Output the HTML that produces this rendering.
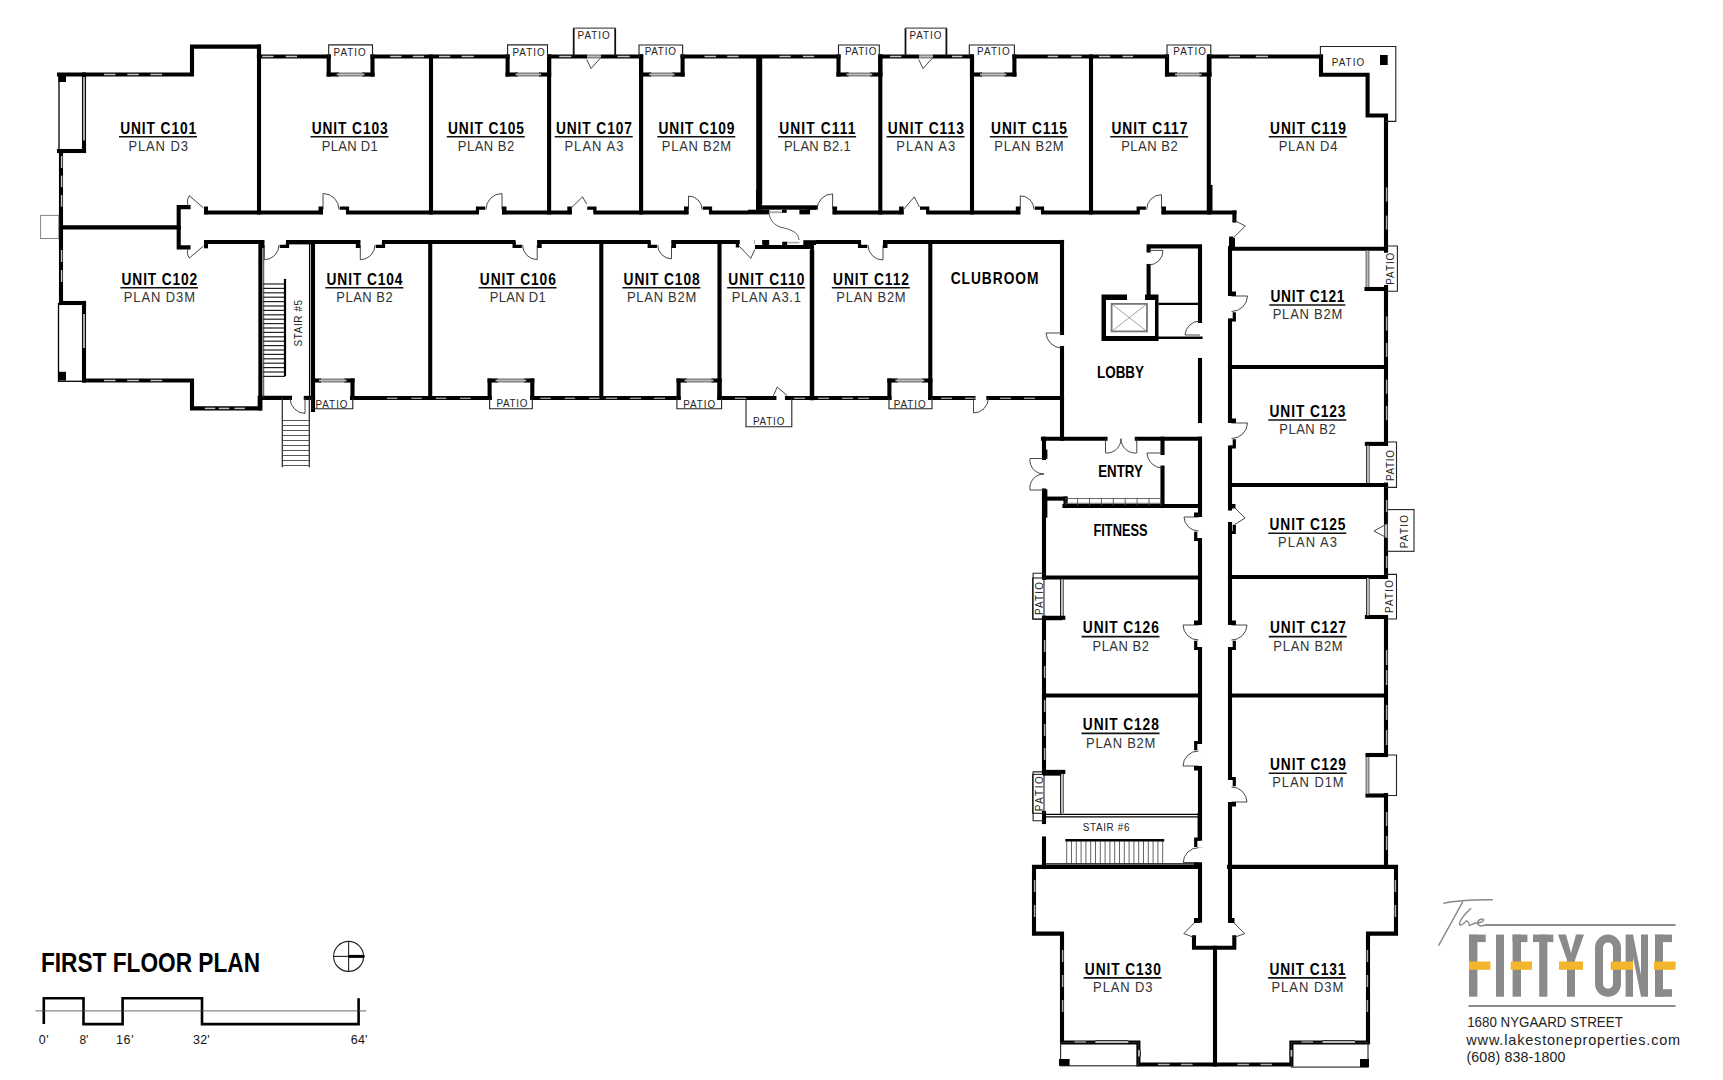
<!DOCTYPE html>
<html><head><meta charset="utf-8"><style>
html,body{margin:0;padding:0;background:#fff;}
svg{display:block;}
text{font-family:"Liberation Sans",sans-serif;}
</style></head><body>
<svg width="1723" height="1080" viewBox="0 0 1723 1080">
<rect width="1723" height="1080" fill="#fff"/>
<polyline points="59,74.5 192,74.5 192,46.6 259,46.6 259,56.5" fill="none" stroke="#000" stroke-width="4.1" stroke-linejoin="miter" stroke-linecap="square"/>
<line x1="259" y1="56.5" x2="328.7" y2="56.5" stroke="#000" stroke-width="4.1" stroke-linecap="square"/>
<line x1="372.5" y1="56.5" x2="507.6" y2="56.5" stroke="#000" stroke-width="4.1" stroke-linecap="square"/>
<line x1="549.1" y1="56.5" x2="641.1" y2="56.5" stroke="#000" stroke-width="4.1" stroke-linecap="square"/>
<line x1="682.6" y1="56.5" x2="838.5" y2="56.5" stroke="#000" stroke-width="4.1" stroke-linecap="square"/>
<line x1="880.3" y1="56.5" x2="969.3" y2="56.5" stroke="#000" stroke-width="4.1" stroke-linecap="square"/>
<line x1="1014.4" y1="56.5" x2="1167" y2="56.5" stroke="#000" stroke-width="4.1" stroke-linecap="square"/>
<line x1="1209.5" y1="56.5" x2="1321" y2="56.5" stroke="#000" stroke-width="4.1" stroke-linecap="square"/>
<line x1="328.7" y1="56.5" x2="328.7" y2="74.5" stroke="#000" stroke-width="4.1" stroke-linecap="square"/>
<line x1="372.5" y1="56.5" x2="372.5" y2="74.5" stroke="#000" stroke-width="4.1" stroke-linecap="square"/>
<line x1="328.7" y1="74.5" x2="336.7" y2="74.5" stroke="#000" stroke-width="4.1" stroke-linecap="square"/>
<line x1="364.5" y1="74.5" x2="372.5" y2="74.5" stroke="#000" stroke-width="4.1" stroke-linecap="square"/>
<line x1="336.7" y1="73.2" x2="364.5" y2="73.2" stroke="#111" stroke-width="0.9" stroke-linecap="butt"/>
<line x1="336.7" y1="75.8" x2="364.5" y2="75.8" stroke="#111" stroke-width="0.9" stroke-linecap="butt"/>
<line x1="336.7" y1="74.5" x2="364.5" y2="74.5" stroke="#bbb" stroke-width="1.8" stroke-linecap="butt"/>
<line x1="507.6" y1="56.5" x2="507.6" y2="74.5" stroke="#000" stroke-width="4.1" stroke-linecap="square"/>
<line x1="549.1" y1="56.5" x2="549.1" y2="74.5" stroke="#000" stroke-width="4.1" stroke-linecap="square"/>
<line x1="507.6" y1="74.5" x2="515.6" y2="74.5" stroke="#000" stroke-width="4.1" stroke-linecap="square"/>
<line x1="541.1" y1="74.5" x2="549.1" y2="74.5" stroke="#000" stroke-width="4.1" stroke-linecap="square"/>
<line x1="515.6" y1="73.2" x2="541.1" y2="73.2" stroke="#111" stroke-width="0.9" stroke-linecap="butt"/>
<line x1="515.6" y1="75.8" x2="541.1" y2="75.8" stroke="#111" stroke-width="0.9" stroke-linecap="butt"/>
<line x1="515.6" y1="74.5" x2="541.1" y2="74.5" stroke="#bbb" stroke-width="1.8" stroke-linecap="butt"/>
<line x1="641.1" y1="56.5" x2="641.1" y2="74.5" stroke="#000" stroke-width="4.1" stroke-linecap="square"/>
<line x1="682.6" y1="56.5" x2="682.6" y2="74.5" stroke="#000" stroke-width="4.1" stroke-linecap="square"/>
<line x1="641.1" y1="74.5" x2="649.1" y2="74.5" stroke="#000" stroke-width="4.1" stroke-linecap="square"/>
<line x1="674.6" y1="74.5" x2="682.6" y2="74.5" stroke="#000" stroke-width="4.1" stroke-linecap="square"/>
<line x1="649.1" y1="73.2" x2="674.6" y2="73.2" stroke="#111" stroke-width="0.9" stroke-linecap="butt"/>
<line x1="649.1" y1="75.8" x2="674.6" y2="75.8" stroke="#111" stroke-width="0.9" stroke-linecap="butt"/>
<line x1="649.1" y1="74.5" x2="674.6" y2="74.5" stroke="#bbb" stroke-width="1.8" stroke-linecap="butt"/>
<line x1="838.5" y1="56.5" x2="838.5" y2="74.5" stroke="#000" stroke-width="4.1" stroke-linecap="square"/>
<line x1="880.3" y1="56.5" x2="880.3" y2="74.5" stroke="#000" stroke-width="4.1" stroke-linecap="square"/>
<line x1="838.5" y1="74.5" x2="846.5" y2="74.5" stroke="#000" stroke-width="4.1" stroke-linecap="square"/>
<line x1="872.3" y1="74.5" x2="880.3" y2="74.5" stroke="#000" stroke-width="4.1" stroke-linecap="square"/>
<line x1="846.5" y1="73.2" x2="872.3" y2="73.2" stroke="#111" stroke-width="0.9" stroke-linecap="butt"/>
<line x1="846.5" y1="75.8" x2="872.3" y2="75.8" stroke="#111" stroke-width="0.9" stroke-linecap="butt"/>
<line x1="846.5" y1="74.5" x2="872.3" y2="74.5" stroke="#bbb" stroke-width="1.8" stroke-linecap="butt"/>
<line x1="972" y1="56.5" x2="972" y2="74.5" stroke="#000" stroke-width="4.1" stroke-linecap="square"/>
<line x1="1014.4" y1="56.5" x2="1014.4" y2="74.5" stroke="#000" stroke-width="4.1" stroke-linecap="square"/>
<line x1="972" y1="74.5" x2="980" y2="74.5" stroke="#000" stroke-width="4.1" stroke-linecap="square"/>
<line x1="1006.4" y1="74.5" x2="1014.4" y2="74.5" stroke="#000" stroke-width="4.1" stroke-linecap="square"/>
<line x1="980" y1="73.2" x2="1006.4" y2="73.2" stroke="#111" stroke-width="0.9" stroke-linecap="butt"/>
<line x1="980" y1="75.8" x2="1006.4" y2="75.8" stroke="#111" stroke-width="0.9" stroke-linecap="butt"/>
<line x1="980" y1="74.5" x2="1006.4" y2="74.5" stroke="#bbb" stroke-width="1.8" stroke-linecap="butt"/>
<line x1="1167" y1="56.5" x2="1167" y2="74.5" stroke="#000" stroke-width="4.1" stroke-linecap="square"/>
<line x1="1209.5" y1="56.5" x2="1209.5" y2="74.5" stroke="#000" stroke-width="4.1" stroke-linecap="square"/>
<line x1="1167" y1="74.5" x2="1175" y2="74.5" stroke="#000" stroke-width="4.1" stroke-linecap="square"/>
<line x1="1201.5" y1="74.5" x2="1209.5" y2="74.5" stroke="#000" stroke-width="4.1" stroke-linecap="square"/>
<line x1="1175" y1="73.2" x2="1201.5" y2="73.2" stroke="#111" stroke-width="0.9" stroke-linecap="butt"/>
<line x1="1175" y1="75.8" x2="1201.5" y2="75.8" stroke="#111" stroke-width="0.9" stroke-linecap="butt"/>
<line x1="1175" y1="74.5" x2="1201.5" y2="74.5" stroke="#bbb" stroke-width="1.8" stroke-linecap="butt"/>
<polyline points="1321,56.5 1321,74.7 1367.6,74.7 1367.6,115.5 1386,115.5 1386,250.7" fill="none" stroke="#000" stroke-width="4.1" stroke-linejoin="miter" stroke-linecap="square"/>
<line x1="1386" y1="287" x2="1386" y2="443.9" stroke="#000" stroke-width="4.1" stroke-linecap="square"/>
<line x1="1386" y1="484.6" x2="1386" y2="576.3" stroke="#000" stroke-width="4.1" stroke-linecap="square"/>
<line x1="1386" y1="617" x2="1386" y2="755" stroke="#000" stroke-width="4.1" stroke-linecap="square"/>
<line x1="1386" y1="795" x2="1386" y2="867" stroke="#000" stroke-width="4.1" stroke-linecap="square"/>
<line x1="431" y1="56.5" x2="431" y2="212.5" stroke="#000" stroke-width="4.1" stroke-linecap="square"/>
<line x1="549.1" y1="56.5" x2="549.1" y2="212.5" stroke="#000" stroke-width="4.1" stroke-linecap="square"/>
<line x1="641.1" y1="56.5" x2="641.1" y2="212.5" stroke="#000" stroke-width="4.1" stroke-linecap="square"/>
<line x1="880.3" y1="56.5" x2="880.3" y2="212.5" stroke="#000" stroke-width="4.1" stroke-linecap="square"/>
<line x1="972" y1="56.5" x2="972" y2="212.5" stroke="#000" stroke-width="4.1" stroke-linecap="square"/>
<line x1="1091" y1="56.5" x2="1091" y2="212.5" stroke="#000" stroke-width="4.1" stroke-linecap="square"/>
<line x1="259" y1="46.6" x2="259" y2="212.5" stroke="#000" stroke-width="4.1" stroke-linecap="square"/>
<line x1="759.2" y1="56.5" x2="759.2" y2="212.5" stroke="#000" stroke-width="6" stroke-linecap="butt"/>
<line x1="1208.8" y1="56.5" x2="1208.8" y2="212.5" stroke="#000" stroke-width="4.1" stroke-linecap="square"/>
<rect x="1207" y="185" width="5.5" height="27.5" fill="#000"/>
<polyline points="328.7,56.5 328.7,44.9 372.5,44.9 372.5,56.5" fill="none" stroke="#222" stroke-width="1.1" stroke-linejoin="miter" stroke-linecap="square"/>
<polyline points="507.6,56.5 507.6,44.9 547.5,44.9 547.5,56.5" fill="none" stroke="#222" stroke-width="1.1" stroke-linejoin="miter" stroke-linecap="square"/>
<line x1="573.7" y1="56.5" x2="573.7" y2="28.2" stroke="#111" stroke-width="1.8" stroke-linecap="butt"/>
<line x1="615.2" y1="56.5" x2="615.2" y2="28.2" stroke="#111" stroke-width="1.8" stroke-linecap="butt"/>
<line x1="573.7" y1="28.2" x2="615.2" y2="28.2" stroke="#555" stroke-width="1.3" stroke-linecap="square"/>
<polyline points="639,56.5 639,45 682.6,45 682.6,56.5" fill="none" stroke="#222" stroke-width="1.1" stroke-linejoin="miter" stroke-linecap="square"/>
<polyline points="838.5,56.5 838.5,45 879.3,45 879.3,56.5" fill="none" stroke="#222" stroke-width="1.1" stroke-linejoin="miter" stroke-linecap="square"/>
<line x1="905.5" y1="56.5" x2="905.5" y2="28.2" stroke="#111" stroke-width="1.8" stroke-linecap="butt"/>
<line x1="946.4" y1="56.5" x2="946.4" y2="28.2" stroke="#111" stroke-width="1.8" stroke-linecap="butt"/>
<line x1="905.5" y1="28.2" x2="946.4" y2="28.2" stroke="#555" stroke-width="1.3" stroke-linecap="square"/>
<polyline points="969.3,56.5 969.3,45 1014.4,45 1014.4,56.5" fill="none" stroke="#222" stroke-width="1.1" stroke-linejoin="miter" stroke-linecap="square"/>
<polyline points="1167,56.5 1167,45 1210.8,45 1210.8,56.5" fill="none" stroke="#222" stroke-width="1.1" stroke-linejoin="miter" stroke-linecap="square"/>
<polyline points="1320.4,56.5 1320.4,46.5 1395.8,46.5 1395.8,121.4 1386,121.4" fill="none" stroke="#222" stroke-width="1.1" stroke-linejoin="miter" stroke-linecap="square"/>
<rect x="1380" y="55" width="7.7" height="10" fill="#000"/>
<polyline points="59,74.5 59,151" fill="none" stroke="#000" stroke-width="1.3" stroke-linejoin="miter" stroke-linecap="square"/>
<line x1="84" y1="74.5" x2="84" y2="151" stroke="#000" stroke-width="4.1" stroke-linecap="square"/>
<line x1="59" y1="151" x2="84" y2="151" stroke="#000" stroke-width="4.1" stroke-linecap="square"/>
<rect x="58.5" y="74.5" width="7.5" height="7.5" fill="#000"/>
<line x1="61" y1="151" x2="61" y2="303" stroke="#000" stroke-width="4.1" stroke-linecap="square"/>
<line x1="61" y1="227.4" x2="178.7" y2="227.4" stroke="#000" stroke-width="4.1" stroke-linecap="square"/>
<rect x="40.7" y="215.3" width="18.1" height="23.3" fill="none" stroke="#666" stroke-width="0.8"/>
<polyline points="188.5,207.1 178.7,207.1 178.7,247.4 188.5,247.4" fill="none" stroke="#000" stroke-width="4.1" stroke-linejoin="miter" stroke-linecap="square"/>
<rect x="204" y="206.5" width="4" height="7.8" fill="#000"/>
<rect x="204" y="241.5" width="4" height="6.8" fill="#000"/>
<rect x="58.5" y="303.7" width="25.7" height="77.6" fill="none" stroke="#000" stroke-width="1.3"/>
<line x1="61" y1="303" x2="84" y2="303" stroke="#000" stroke-width="4.1" stroke-linecap="square"/>
<line x1="84" y1="303" x2="84" y2="380.5" stroke="#000" stroke-width="4.1" stroke-linecap="square"/>
<rect x="58.8" y="371.8" width="7.2" height="8.7" fill="#000"/>
<polyline points="84,380.5 192,380.5 192,408.4 259.7,408.4 259.7,397.9" fill="none" stroke="#000" stroke-width="4.1" stroke-linejoin="miter" stroke-linecap="square"/>
<line x1="206" y1="212.5" x2="1234.4" y2="212.5" stroke="#000" stroke-width="4.1" stroke-linecap="square"/>
<line x1="206" y1="242" x2="1062" y2="242" stroke="#000" stroke-width="4.1" stroke-linecap="square"/>
<line x1="260.4" y1="242" x2="260.4" y2="408.4" stroke="#000" stroke-width="4.1" stroke-linecap="square"/>
<line x1="309.6" y1="244" x2="309.6" y2="398" stroke="#000" stroke-width="1.3" stroke-linecap="square"/>
<line x1="313" y1="242" x2="313" y2="410" stroke="#000" stroke-width="4.1" stroke-linecap="square"/>
<line x1="260.5" y1="397.9" x2="290" y2="397.9" stroke="#000" stroke-width="4.1" stroke-linecap="square"/>
<line x1="305.8" y1="397.9" x2="313" y2="397.9" stroke="#000" stroke-width="4.1" stroke-linecap="square"/>
<line x1="430.2" y1="242" x2="430.2" y2="398" stroke="#000" stroke-width="4.1" stroke-linecap="square"/>
<line x1="601.3" y1="242" x2="601.3" y2="398" stroke="#000" stroke-width="4.1" stroke-linecap="square"/>
<line x1="719.5" y1="242" x2="719.5" y2="398" stroke="#000" stroke-width="4.1" stroke-linecap="square"/>
<line x1="930.3" y1="242" x2="930.3" y2="398" stroke="#000" stroke-width="4.1" stroke-linecap="square"/>
<line x1="812" y1="242" x2="812" y2="398" stroke="#000" stroke-width="4.5" stroke-linecap="square"/>
<line x1="1062" y1="242" x2="1062" y2="333" stroke="#000" stroke-width="4.1" stroke-linecap="square"/>
<line x1="1062" y1="348" x2="1062" y2="438.7" stroke="#000" stroke-width="4.1" stroke-linecap="square"/>
<line x1="352" y1="398" x2="489.6" y2="398" stroke="#000" stroke-width="4.1" stroke-linecap="square"/>
<line x1="532.3" y1="398" x2="678.6" y2="398" stroke="#000" stroke-width="4.1" stroke-linecap="square"/>
<line x1="719.5" y1="398" x2="774.4" y2="398" stroke="#000" stroke-width="4.1" stroke-linecap="square"/>
<line x1="787" y1="398" x2="889.4" y2="398" stroke="#000" stroke-width="4.1" stroke-linecap="square"/>
<line x1="930.3" y1="398" x2="973.5" y2="398" stroke="#000" stroke-width="4.1" stroke-linecap="square"/>
<line x1="988.4" y1="398" x2="1062" y2="398" stroke="#000" stroke-width="4.1" stroke-linecap="square"/>
<line x1="313" y1="398" x2="313" y2="380.5" stroke="#000" stroke-width="4.1" stroke-linecap="square"/>
<line x1="352.5" y1="398" x2="352.5" y2="380.5" stroke="#000" stroke-width="4.1" stroke-linecap="square"/>
<line x1="313" y1="380.5" x2="319" y2="380.5" stroke="#000" stroke-width="4.1" stroke-linecap="square"/>
<line x1="346.5" y1="380.5" x2="352.5" y2="380.5" stroke="#000" stroke-width="4.1" stroke-linecap="square"/>
<line x1="319" y1="379.2" x2="346.5" y2="379.2" stroke="#111" stroke-width="0.9" stroke-linecap="butt"/>
<line x1="319" y1="381.8" x2="346.5" y2="381.8" stroke="#111" stroke-width="0.9" stroke-linecap="butt"/>
<line x1="319" y1="380.5" x2="346.5" y2="380.5" stroke="#bbb" stroke-width="1.8" stroke-linecap="butt"/>
<line x1="489.6" y1="398" x2="489.6" y2="380.5" stroke="#000" stroke-width="4.1" stroke-linecap="square"/>
<line x1="532.3" y1="398" x2="532.3" y2="380.5" stroke="#000" stroke-width="4.1" stroke-linecap="square"/>
<line x1="489.6" y1="380.5" x2="495.6" y2="380.5" stroke="#000" stroke-width="4.1" stroke-linecap="square"/>
<line x1="526.3" y1="380.5" x2="532.3" y2="380.5" stroke="#000" stroke-width="4.1" stroke-linecap="square"/>
<line x1="495.6" y1="379.2" x2="526.3" y2="379.2" stroke="#111" stroke-width="0.9" stroke-linecap="butt"/>
<line x1="495.6" y1="381.8" x2="526.3" y2="381.8" stroke="#111" stroke-width="0.9" stroke-linecap="butt"/>
<line x1="495.6" y1="380.5" x2="526.3" y2="380.5" stroke="#bbb" stroke-width="1.8" stroke-linecap="butt"/>
<line x1="678.6" y1="398" x2="678.6" y2="380.5" stroke="#000" stroke-width="4.1" stroke-linecap="square"/>
<line x1="719.5" y1="398" x2="719.5" y2="380.5" stroke="#000" stroke-width="4.1" stroke-linecap="square"/>
<line x1="678.6" y1="380.5" x2="684.6" y2="380.5" stroke="#000" stroke-width="4.1" stroke-linecap="square"/>
<line x1="713.5" y1="380.5" x2="719.5" y2="380.5" stroke="#000" stroke-width="4.1" stroke-linecap="square"/>
<line x1="684.6" y1="379.2" x2="713.5" y2="379.2" stroke="#111" stroke-width="0.9" stroke-linecap="butt"/>
<line x1="684.6" y1="381.8" x2="713.5" y2="381.8" stroke="#111" stroke-width="0.9" stroke-linecap="butt"/>
<line x1="684.6" y1="380.5" x2="713.5" y2="380.5" stroke="#bbb" stroke-width="1.8" stroke-linecap="butt"/>
<line x1="889.4" y1="398" x2="889.4" y2="380.5" stroke="#000" stroke-width="4.1" stroke-linecap="square"/>
<line x1="930.3" y1="398" x2="930.3" y2="380.5" stroke="#000" stroke-width="4.1" stroke-linecap="square"/>
<line x1="889.4" y1="380.5" x2="895.4" y2="380.5" stroke="#000" stroke-width="4.1" stroke-linecap="square"/>
<line x1="924.3" y1="380.5" x2="930.3" y2="380.5" stroke="#000" stroke-width="4.1" stroke-linecap="square"/>
<line x1="895.4" y1="379.2" x2="924.3" y2="379.2" stroke="#111" stroke-width="0.9" stroke-linecap="butt"/>
<line x1="895.4" y1="381.8" x2="924.3" y2="381.8" stroke="#111" stroke-width="0.9" stroke-linecap="butt"/>
<line x1="895.4" y1="380.5" x2="924.3" y2="380.5" stroke="#bbb" stroke-width="1.8" stroke-linecap="butt"/>
<polyline points="312,398 312,408.8 352.8,408.8 352.8,398" fill="none" stroke="#222" stroke-width="1.1" stroke-linejoin="miter" stroke-linecap="square"/>
<polyline points="489.6,398 489.6,408.8 532.3,408.8 532.3,398" fill="none" stroke="#222" stroke-width="1.1" stroke-linejoin="miter" stroke-linecap="square"/>
<polyline points="676.9,398 676.9,408.8 721.6,408.8 721.6,398" fill="none" stroke="#222" stroke-width="1.1" stroke-linejoin="miter" stroke-linecap="square"/>
<polyline points="889,398 889,408.8 932,408.8 932,398" fill="none" stroke="#222" stroke-width="1.1" stroke-linejoin="miter" stroke-linecap="square"/>
<polyline points="746,398 746,426.7 791.8,426.7 791.8,398" fill="none" stroke="#222" stroke-width="1.1" stroke-linejoin="miter" stroke-linecap="square"/>
<line x1="282.3" y1="398" x2="282.3" y2="466.7" stroke="#222" stroke-width="1.2" stroke-linecap="square"/>
<line x1="309.3" y1="398" x2="309.3" y2="466.7" stroke="#222" stroke-width="1.2" stroke-linecap="square"/>
<line x1="282.3" y1="420.5" x2="309.3" y2="420.5" stroke="#444" stroke-width="0.9" stroke-linecap="butt"/>
<line x1="282.3" y1="425.5" x2="309.3" y2="425.5" stroke="#444" stroke-width="0.9" stroke-linecap="butt"/>
<line x1="282.3" y1="430.5" x2="309.3" y2="430.5" stroke="#444" stroke-width="0.9" stroke-linecap="butt"/>
<line x1="282.3" y1="435.5" x2="309.3" y2="435.5" stroke="#444" stroke-width="0.9" stroke-linecap="butt"/>
<line x1="282.3" y1="440.5" x2="309.3" y2="440.5" stroke="#444" stroke-width="0.9" stroke-linecap="butt"/>
<line x1="282.3" y1="445.5" x2="309.3" y2="445.5" stroke="#444" stroke-width="0.9" stroke-linecap="butt"/>
<line x1="282.3" y1="450.5" x2="309.3" y2="450.5" stroke="#444" stroke-width="0.9" stroke-linecap="butt"/>
<line x1="282.3" y1="455.5" x2="309.3" y2="455.5" stroke="#444" stroke-width="0.9" stroke-linecap="butt"/>
<line x1="282.3" y1="460.5" x2="309.3" y2="460.5" stroke="#444" stroke-width="0.9" stroke-linecap="butt"/>
<line x1="282.3" y1="465.5" x2="309.3" y2="465.5" stroke="#444" stroke-width="0.9" stroke-linecap="butt"/>
<path d="M305 398 L305 413.5 A15.5 15.5 0 0 1 290 398" fill="none" stroke="#333" stroke-width="0.9"/>
<line x1="263" y1="284" x2="285" y2="284" stroke="#222" stroke-width="1.2" stroke-linecap="butt"/>
<line x1="263" y1="288.4" x2="285" y2="288.4" stroke="#222" stroke-width="1.2" stroke-linecap="butt"/>
<line x1="263" y1="292.8" x2="285" y2="292.8" stroke="#222" stroke-width="1.2" stroke-linecap="butt"/>
<line x1="263" y1="297.2" x2="285" y2="297.2" stroke="#222" stroke-width="1.2" stroke-linecap="butt"/>
<line x1="263" y1="301.6" x2="285" y2="301.6" stroke="#222" stroke-width="1.2" stroke-linecap="butt"/>
<line x1="263" y1="306" x2="285" y2="306" stroke="#222" stroke-width="1.2" stroke-linecap="butt"/>
<line x1="263" y1="310.4" x2="285" y2="310.4" stroke="#222" stroke-width="1.2" stroke-linecap="butt"/>
<line x1="263" y1="314.8" x2="285" y2="314.8" stroke="#222" stroke-width="1.2" stroke-linecap="butt"/>
<line x1="263" y1="319.2" x2="285" y2="319.2" stroke="#222" stroke-width="1.2" stroke-linecap="butt"/>
<line x1="263" y1="323.6" x2="285" y2="323.6" stroke="#222" stroke-width="1.2" stroke-linecap="butt"/>
<line x1="263" y1="328" x2="285" y2="328" stroke="#222" stroke-width="1.2" stroke-linecap="butt"/>
<line x1="263" y1="332.4" x2="285" y2="332.4" stroke="#222" stroke-width="1.2" stroke-linecap="butt"/>
<line x1="263" y1="336.8" x2="285" y2="336.8" stroke="#222" stroke-width="1.2" stroke-linecap="butt"/>
<line x1="263" y1="341.2" x2="285" y2="341.2" stroke="#222" stroke-width="1.2" stroke-linecap="butt"/>
<line x1="263" y1="345.6" x2="285" y2="345.6" stroke="#222" stroke-width="1.2" stroke-linecap="butt"/>
<line x1="263" y1="350" x2="285" y2="350" stroke="#222" stroke-width="1.2" stroke-linecap="butt"/>
<line x1="263" y1="354.4" x2="285" y2="354.4" stroke="#222" stroke-width="1.2" stroke-linecap="butt"/>
<line x1="263" y1="358.8" x2="285" y2="358.8" stroke="#222" stroke-width="1.2" stroke-linecap="butt"/>
<line x1="263" y1="363.2" x2="285" y2="363.2" stroke="#222" stroke-width="1.2" stroke-linecap="butt"/>
<line x1="263" y1="367.6" x2="285" y2="367.6" stroke="#222" stroke-width="1.2" stroke-linecap="butt"/>
<line x1="263" y1="372" x2="285" y2="372" stroke="#222" stroke-width="1.2" stroke-linecap="butt"/>
<line x1="263" y1="376.4" x2="285" y2="376.4" stroke="#222" stroke-width="1.2" stroke-linecap="butt"/>
<line x1="263.7" y1="246" x2="263.7" y2="398" stroke="#333" stroke-width="0.9" stroke-linecap="butt"/>
<line x1="285" y1="280" x2="285" y2="375" stroke="#000" stroke-width="2.2" stroke-linecap="square"/>
<line x1="284.7" y1="242.9" x2="311" y2="242.9" stroke="#000" stroke-width="3" stroke-linecap="square"/>
<rect x="748" y="204" width="70.5" height="12.5" fill="#fff"/>
<rect x="756" y="190" width="5.9" height="19.7" fill="#000"/>
<rect x="756" y="205.3" width="61.8" height="4.4" fill="#000"/>
<rect x="748" y="209.7" width="21.4" height="4.7" fill="#000"/>
<rect x="769.4" y="211.3" width="12.6" height="1.9" fill="#aaa"/>
<rect x="782" y="209.7" width="4.7" height="3.1" fill="#000"/>
<rect x="799.4" y="209.7" width="11.2" height="4.7" fill="#000"/>
<rect x="754.8" y="239" width="61.2" height="11" fill="#fff"/>
<rect x="755" y="245" width="58.9" height="4" fill="#000"/>
<rect x="762.2" y="240" width="7" height="5" fill="#000"/>
<rect x="782.2" y="241.7" width="5" height="3.3" fill="#000"/>
<rect x="787.2" y="241.8" width="12.2" height="1.6" fill="#aaa"/>
<rect x="803.3" y="240.2" width="12.7" height="4.8" fill="#000"/>
<rect x="810.2" y="244" width="3.6" height="8" fill="#000"/>
<path d="M769.4 214.4 C770 220 774 225 780.6 227.2 C786 228.5 791 229.5 795.6 232.8 C797.5 234.5 798.5 236.5 799 240" fill="none" stroke="#444" stroke-width="0.9"/>
<polyline points="1234.4,212.5 1234.4,220.5" fill="none" stroke="#000" stroke-width="4.1" stroke-linejoin="miter" stroke-linecap="square"/>
<polyline points="1231.2,238.5 1231.2,248.8 1386,248.8" fill="none" stroke="#000" stroke-width="4.1" stroke-linejoin="miter" stroke-linecap="square"/>
<polyline points="1148.6,250.4 1148.6,246.4 1200,246.4 1200,321" fill="none" stroke="#000" stroke-width="4.1" stroke-linejoin="miter" stroke-linecap="square"/>
<line x1="1148.6" y1="266" x2="1148.6" y2="296" stroke="#000" stroke-width="4.1" stroke-linecap="square"/>
<rect x="1101.5" y="294.5" width="57" height="46.5" fill="#000"/>
<rect x="1106" y="300" width="49" height="36" fill="#fff"/>
<rect x="1127" y="294" width="18" height="6" fill="#fff"/>
<rect x="1111.6" y="303.9" width="35.4" height="27.5" fill="none" stroke="#777" stroke-width="1.8"/>
<line x1="1111.6" y1="303.9" x2="1147" y2="331.4" stroke="#777" stroke-width="0.7" stroke-linecap="square"/>
<line x1="1147" y1="303.9" x2="1111.6" y2="331.4" stroke="#777" stroke-width="0.7" stroke-linecap="square"/>
<line x1="1157.2" y1="300" x2="1157.2" y2="338" stroke="#000" stroke-width="0.9" stroke-linecap="square"/>
<line x1="1159.6" y1="303.9" x2="1199.7" y2="303.9" stroke="#000" stroke-width="2.2" stroke-linecap="square"/>
<line x1="1158" y1="337.7" x2="1201.3" y2="337.7" stroke="#000" stroke-width="2.6" stroke-linecap="square"/>
<line x1="1200" y1="360" x2="1200" y2="421" stroke="#000" stroke-width="4.1" stroke-linecap="square"/>
<line x1="1230" y1="248" x2="1230" y2="296" stroke="#000" stroke-width="4.1" stroke-linecap="square"/>
<line x1="1230" y1="312" x2="1230" y2="423" stroke="#000" stroke-width="4.1" stroke-linecap="square"/>
<line x1="1230" y1="439" x2="1230" y2="508.5" stroke="#000" stroke-width="4.1" stroke-linecap="square"/>
<line x1="1230" y1="524" x2="1230" y2="623" stroke="#000" stroke-width="4.1" stroke-linecap="square"/>
<line x1="1230" y1="639" x2="1230" y2="787" stroke="#000" stroke-width="4.1" stroke-linecap="square"/>
<line x1="1230" y1="802" x2="1230" y2="920.6" stroke="#000" stroke-width="4.1" stroke-linecap="square"/>
<line x1="1200" y1="438.7" x2="1200" y2="517" stroke="#000" stroke-width="4.1" stroke-linecap="square"/>
<line x1="1200" y1="531" x2="1200" y2="622.6" stroke="#000" stroke-width="4.1" stroke-linecap="square"/>
<line x1="1200" y1="639" x2="1200" y2="752" stroke="#000" stroke-width="4.1" stroke-linecap="square"/>
<line x1="1200" y1="767" x2="1200" y2="848.5" stroke="#000" stroke-width="4.1" stroke-linecap="square"/>
<line x1="1200" y1="862" x2="1200" y2="920.6" stroke="#000" stroke-width="4.1" stroke-linecap="square"/>
<line x1="1043" y1="438.7" x2="1105.5" y2="438.7" stroke="#000" stroke-width="4.1" stroke-linecap="square"/>
<line x1="1136.8" y1="438.7" x2="1200" y2="438.7" stroke="#000" stroke-width="4.1" stroke-linecap="square"/>
<line x1="1044" y1="438.7" x2="1044" y2="458" stroke="#000" stroke-width="4.1" stroke-linecap="square"/>
<line x1="1044" y1="490.5" x2="1044" y2="577.8" stroke="#000" stroke-width="4.1" stroke-linecap="square"/>
<line x1="1044" y1="617.8" x2="1044" y2="771.9" stroke="#000" stroke-width="4.1" stroke-linecap="square"/>
<line x1="1044" y1="838.5" x2="1044" y2="867" stroke="#000" stroke-width="4.1" stroke-linecap="square"/>
<line x1="1044" y1="813" x2="1044" y2="822" stroke="#000" stroke-width="4.1" stroke-linecap="square"/>
<line x1="1162.5" y1="438.7" x2="1162.5" y2="453" stroke="#000" stroke-width="4.1" stroke-linecap="square"/>
<line x1="1162.5" y1="467.6" x2="1162.5" y2="506" stroke="#000" stroke-width="4.1" stroke-linecap="square"/>
<line x1="1064.5" y1="506" x2="1200" y2="506" stroke="#000" stroke-width="4.1" stroke-linecap="square"/>
<line x1="1044" y1="498.6" x2="1065.5" y2="498.6" stroke="#000" stroke-width="4.1" stroke-linecap="square"/>
<line x1="1065.5" y1="498.6" x2="1065.5" y2="506" stroke="#000" stroke-width="4.1" stroke-linecap="square"/>
<rect x="1043.7" y="449.5" width="3.7" height="9.3" fill="#000"/>
<rect x="1043.7" y="489.4" width="3.7" height="28.2" fill="#000"/>
<line x1="1065.7" y1="498" x2="1065.7" y2="506" stroke="#444" stroke-width="0.8" stroke-linecap="butt"/>
<line x1="1077.6" y1="498" x2="1077.6" y2="506" stroke="#444" stroke-width="0.8" stroke-linecap="butt"/>
<line x1="1089.5" y1="498" x2="1089.5" y2="506" stroke="#444" stroke-width="0.8" stroke-linecap="butt"/>
<line x1="1101.4" y1="498" x2="1101.4" y2="506" stroke="#444" stroke-width="0.8" stroke-linecap="butt"/>
<line x1="1113.3" y1="498" x2="1113.3" y2="506" stroke="#444" stroke-width="0.8" stroke-linecap="butt"/>
<line x1="1125.2" y1="498" x2="1125.2" y2="506" stroke="#444" stroke-width="0.8" stroke-linecap="butt"/>
<line x1="1137.1" y1="498" x2="1137.1" y2="506" stroke="#444" stroke-width="0.8" stroke-linecap="butt"/>
<line x1="1149" y1="498" x2="1149" y2="506" stroke="#444" stroke-width="0.8" stroke-linecap="butt"/>
<line x1="1160.9" y1="498" x2="1160.9" y2="506" stroke="#444" stroke-width="0.8" stroke-linecap="butt"/>
<line x1="1065.7" y1="498.5" x2="1160.8" y2="498.5" stroke="#444" stroke-width="0.8" stroke-linecap="square"/>
<line x1="1065.7" y1="503.3" x2="1160.8" y2="503.3" stroke="#444" stroke-width="0.8" stroke-linecap="square"/>
<line x1="1230" y1="367" x2="1386" y2="367" stroke="#000" stroke-width="4.1" stroke-linecap="square"/>
<line x1="1230" y1="485" x2="1386" y2="485" stroke="#000" stroke-width="4.1" stroke-linecap="square"/>
<line x1="1230" y1="577" x2="1386" y2="577" stroke="#000" stroke-width="4.1" stroke-linecap="square"/>
<line x1="1230" y1="695.5" x2="1386" y2="695.5" stroke="#000" stroke-width="4.1" stroke-linecap="square"/>
<line x1="1044" y1="577.5" x2="1200" y2="577.5" stroke="#000" stroke-width="4.1" stroke-linecap="square"/>
<line x1="1044" y1="695.5" x2="1200" y2="695.5" stroke="#000" stroke-width="4.1" stroke-linecap="square"/>
<line x1="1044" y1="814.3" x2="1198" y2="814.3" stroke="#000" stroke-width="1.2" stroke-linecap="square"/>
<line x1="1044" y1="816.8" x2="1198" y2="816.8" stroke="#000" stroke-width="1.2" stroke-linecap="square"/>
<rect x="1197.6" y="812.8" width="4.2" height="34.9" fill="#000"/>
<line x1="1066.7" y1="840" x2="1066.7" y2="863.3" stroke="#555" stroke-width="0.9" stroke-linecap="butt"/>
<line x1="1071.5" y1="840" x2="1071.5" y2="863.3" stroke="#555" stroke-width="0.9" stroke-linecap="butt"/>
<line x1="1076.3" y1="840" x2="1076.3" y2="863.3" stroke="#555" stroke-width="0.9" stroke-linecap="butt"/>
<line x1="1081.1" y1="840" x2="1081.1" y2="863.3" stroke="#555" stroke-width="0.9" stroke-linecap="butt"/>
<line x1="1085.9" y1="840" x2="1085.9" y2="863.3" stroke="#555" stroke-width="0.9" stroke-linecap="butt"/>
<line x1="1090.7" y1="840" x2="1090.7" y2="863.3" stroke="#555" stroke-width="0.9" stroke-linecap="butt"/>
<line x1="1095.5" y1="840" x2="1095.5" y2="863.3" stroke="#555" stroke-width="0.9" stroke-linecap="butt"/>
<line x1="1100.3" y1="840" x2="1100.3" y2="863.3" stroke="#555" stroke-width="0.9" stroke-linecap="butt"/>
<line x1="1105.1" y1="840" x2="1105.1" y2="863.3" stroke="#555" stroke-width="0.9" stroke-linecap="butt"/>
<line x1="1109.9" y1="840" x2="1109.9" y2="863.3" stroke="#555" stroke-width="0.9" stroke-linecap="butt"/>
<line x1="1114.7" y1="840" x2="1114.7" y2="863.3" stroke="#555" stroke-width="0.9" stroke-linecap="butt"/>
<line x1="1119.5" y1="840" x2="1119.5" y2="863.3" stroke="#555" stroke-width="0.9" stroke-linecap="butt"/>
<line x1="1124.3" y1="840" x2="1124.3" y2="863.3" stroke="#555" stroke-width="0.9" stroke-linecap="butt"/>
<line x1="1129.1" y1="840" x2="1129.1" y2="863.3" stroke="#555" stroke-width="0.9" stroke-linecap="butt"/>
<line x1="1133.9" y1="840" x2="1133.9" y2="863.3" stroke="#555" stroke-width="0.9" stroke-linecap="butt"/>
<line x1="1138.7" y1="840" x2="1138.7" y2="863.3" stroke="#555" stroke-width="0.9" stroke-linecap="butt"/>
<line x1="1143.5" y1="840" x2="1143.5" y2="863.3" stroke="#555" stroke-width="0.9" stroke-linecap="butt"/>
<line x1="1148.3" y1="840" x2="1148.3" y2="863.3" stroke="#555" stroke-width="0.9" stroke-linecap="butt"/>
<line x1="1153.1" y1="840" x2="1153.1" y2="863.3" stroke="#555" stroke-width="0.9" stroke-linecap="butt"/>
<line x1="1157.9" y1="840" x2="1157.9" y2="863.3" stroke="#555" stroke-width="0.9" stroke-linecap="butt"/>
<line x1="1162.7" y1="840" x2="1162.7" y2="863.3" stroke="#555" stroke-width="0.9" stroke-linecap="butt"/>
<line x1="1066.5" y1="840.2" x2="1163" y2="840.2" stroke="#000" stroke-width="2.4" stroke-linecap="square"/>
<line x1="1044" y1="863.8" x2="1200" y2="863.8" stroke="#000" stroke-width="1.3" stroke-linecap="square"/>
<polyline points="1199.3,866.9 1034,866.9 1034,933.6 1062,933.6 1062,1042.5 1138.4,1042.5 1138.4,1064.5 1291.4,1064.5 1291.4,1042.5 1368,1042.5 1368,933.6 1396,933.6 1396,866.9 1229,866.9" fill="none" stroke="#000" stroke-width="4.1" stroke-linejoin="miter" stroke-linecap="square"/>
<rect x="1060.6" y="1042.5" width="77.8" height="23.3" fill="none" stroke="#222" stroke-width="1.1"/>
<rect x="1291.4" y="1042.5" width="76.6" height="24.6" fill="none" stroke="#222" stroke-width="1.1"/>
<rect x="1059" y="1059" width="10.6" height="6.8" fill="#000"/>
<rect x="1360" y="1059" width="9" height="8" fill="#000"/>
<line x1="1215" y1="947.8" x2="1215" y2="1064.5" stroke="#000" stroke-width="4.1" stroke-linecap="square"/>
<polyline points="1194,937.4 1194,947.8 1234.3,947.8 1234.3,937.4" fill="none" stroke="#000" stroke-width="4.1" stroke-linejoin="miter" stroke-linecap="square"/>
<rect x="1194" y="918" width="6" height="5" fill="#000"/>
<rect x="1228.5" y="918" width="6" height="5" fill="#000"/>
<rect x="1032.6" y="578" width="11.4" height="41" fill="none" stroke="#222" stroke-width="1.1"/>
<line x1="1061" y1="578" x2="1061" y2="619" stroke="#000" stroke-width="1.2" stroke-linecap="square"/>
<rect x="1032.6" y="774.4" width="11.4" height="38.9" fill="none" stroke="#222" stroke-width="1.1"/>
<line x1="1061" y1="774.4" x2="1061" y2="813.3" stroke="#000" stroke-width="1.2" stroke-linecap="square"/>
<line x1="1044" y1="619" x2="1061" y2="619" stroke="#000" stroke-width="2.5" stroke-linecap="square"/>
<line x1="1044" y1="774.4" x2="1061" y2="774.4" stroke="#000" stroke-width="2.5" stroke-linecap="square"/>
<polyline points="1386,246 1397.4,246 1397.4,291.3 1386,291.3" fill="none" stroke="#222" stroke-width="1.1" stroke-linejoin="miter" stroke-linecap="square"/>
<line x1="1366.2" y1="250.5" x2="1366.2" y2="287.5" stroke="#111" stroke-width="0.9" stroke-linecap="butt"/>
<line x1="1368.8" y1="250.5" x2="1368.8" y2="287.5" stroke="#111" stroke-width="0.9" stroke-linecap="butt"/>
<line x1="1367.5" y1="250.5" x2="1367.5" y2="287.5" stroke="#bbb" stroke-width="1.8" stroke-linecap="butt"/>
<line x1="1366.5" y1="289" x2="1386" y2="289" stroke="#000" stroke-width="4.1" stroke-linecap="square"/>
<polyline points="1386,442 1396.5,442 1396.5,487.4 1386,487.4" fill="none" stroke="#222" stroke-width="1.1" stroke-linejoin="miter" stroke-linecap="square"/>
<line x1="1366.9" y1="443.9" x2="1386" y2="443.9" stroke="#000" stroke-width="4.1" stroke-linecap="square"/>
<line x1="1366.5" y1="445.5" x2="1366.5" y2="483" stroke="#111" stroke-width="0.9" stroke-linecap="butt"/>
<line x1="1369.1" y1="445.5" x2="1369.1" y2="483" stroke="#111" stroke-width="0.9" stroke-linecap="butt"/>
<line x1="1367.8" y1="445.5" x2="1367.8" y2="483" stroke="#bbb" stroke-width="1.8" stroke-linecap="butt"/>
<polyline points="1386,574.4 1396.5,574.4 1396.5,619 1386,619" fill="none" stroke="#222" stroke-width="1.1" stroke-linejoin="miter" stroke-linecap="square"/>
<line x1="1366.9" y1="617" x2="1386" y2="617" stroke="#000" stroke-width="4.1" stroke-linecap="square"/>
<line x1="1366.5" y1="578" x2="1366.5" y2="615.5" stroke="#111" stroke-width="0.9" stroke-linecap="butt"/>
<line x1="1369.1" y1="578" x2="1369.1" y2="615.5" stroke="#111" stroke-width="0.9" stroke-linecap="butt"/>
<line x1="1367.8" y1="578" x2="1367.8" y2="615.5" stroke="#bbb" stroke-width="1.8" stroke-linecap="butt"/>
<polyline points="1044,573.3 1033.1,573.3 1033.1,619.3 1044,619.3" fill="none" stroke="#222" stroke-width="1.1" stroke-linejoin="miter" stroke-linecap="square"/>
<line x1="1060.6" y1="579.5" x2="1060.6" y2="616" stroke="#111" stroke-width="0.9" stroke-linecap="butt"/>
<line x1="1063.2" y1="579.5" x2="1063.2" y2="616" stroke="#111" stroke-width="0.9" stroke-linecap="butt"/>
<line x1="1061.9" y1="579.5" x2="1061.9" y2="616" stroke="#bbb" stroke-width="1.8" stroke-linecap="butt"/>
<line x1="1044" y1="617.8" x2="1063.3" y2="617.8" stroke="#000" stroke-width="4.1" stroke-linecap="square"/>
<polyline points="1044,771.9 1033.1,771.9 1033.1,820.7 1044,820.7" fill="none" stroke="#222" stroke-width="1.1" stroke-linejoin="miter" stroke-linecap="square"/>
<line x1="1060.6" y1="773.5" x2="1060.6" y2="813" stroke="#111" stroke-width="0.9" stroke-linecap="butt"/>
<line x1="1063.2" y1="773.5" x2="1063.2" y2="813" stroke="#111" stroke-width="0.9" stroke-linecap="butt"/>
<line x1="1061.9" y1="773.5" x2="1061.9" y2="813" stroke="#bbb" stroke-width="1.8" stroke-linecap="butt"/>
<line x1="1044" y1="771.9" x2="1063.3" y2="771.9" stroke="#000" stroke-width="4.1" stroke-linecap="square"/>
<rect x="1387.2" y="509.6" width="26.8" height="41.7" fill="none" stroke="#222" stroke-width="1.1"/>
<line x1="1386" y1="524.4" x2="1386" y2="537.4" stroke="#fff" stroke-width="5.1" stroke-linecap="butt"/>
<line x1="1384.7" y1="524.4" x2="1384.7" y2="537.4" stroke="#111" stroke-width="0.9" stroke-linecap="butt"/>
<line x1="1387.3" y1="524.4" x2="1387.3" y2="537.4" stroke="#111" stroke-width="0.9" stroke-linecap="butt"/>
<line x1="1386" y1="524.4" x2="1386" y2="537.4" stroke="#bbb" stroke-width="1.8" stroke-linecap="butt"/>
<path d="M1386 524.4 L1374 531 L1386 537.4" fill="none" stroke="#333" stroke-width="0.9"/>
<polyline points="1386,755 1396.5,755 1396.5,795.5 1386,795.5" fill="none" stroke="#222" stroke-width="1.1" stroke-linejoin="miter" stroke-linecap="square"/>
<line x1="1367.5" y1="755" x2="1386" y2="755" stroke="#000" stroke-width="4.1" stroke-linecap="square"/>
<line x1="1367.5" y1="795.5" x2="1386" y2="795.5" stroke="#000" stroke-width="4.1" stroke-linecap="square"/>
<line x1="1366.2" y1="757" x2="1366.2" y2="793.5" stroke="#111" stroke-width="0.9" stroke-linecap="butt"/>
<line x1="1368.8" y1="757" x2="1368.8" y2="793.5" stroke="#111" stroke-width="0.9" stroke-linecap="butt"/>
<line x1="1367.5" y1="757" x2="1367.5" y2="793.5" stroke="#bbb" stroke-width="1.8" stroke-linecap="butt"/>
<line x1="262.2" y1="56.5" x2="273.5" y2="56.5" stroke="#c4c4c4" stroke-width="1.5" stroke-linecap="butt"/>
<line x1="285.7" y1="56.5" x2="297" y2="56.5" stroke="#c4c4c4" stroke-width="1.5" stroke-linecap="butt"/>
<line x1="390.2" y1="56.5" x2="401.5" y2="56.5" stroke="#c4c4c4" stroke-width="1.5" stroke-linecap="butt"/>
<line x1="412.8" y1="56.5" x2="424.1" y2="56.5" stroke="#c4c4c4" stroke-width="1.5" stroke-linecap="butt"/>
<line x1="439" y1="56.5" x2="450.2" y2="56.5" stroke="#c4c4c4" stroke-width="1.5" stroke-linecap="butt"/>
<line x1="461.6" y1="56.5" x2="473.8" y2="56.5" stroke="#c4c4c4" stroke-width="1.5" stroke-linecap="butt"/>
<line x1="559.2" y1="56.5" x2="571.3" y2="56.5" stroke="#c4c4c4" stroke-width="1.5" stroke-linecap="butt"/>
<line x1="617.5" y1="56.5" x2="629.7" y2="56.5" stroke="#c4c4c4" stroke-width="1.5" stroke-linecap="butt"/>
<line x1="704.5" y1="56.5" x2="715.9" y2="56.5" stroke="#c4c4c4" stroke-width="1.5" stroke-linecap="butt"/>
<line x1="727.2" y1="56.5" x2="738.5" y2="56.5" stroke="#c4c4c4" stroke-width="1.5" stroke-linecap="butt"/>
<line x1="779.4" y1="56.5" x2="790.7" y2="56.5" stroke="#c4c4c4" stroke-width="1.5" stroke-linecap="butt"/>
<line x1="803" y1="56.5" x2="814.2" y2="56.5" stroke="#c4c4c4" stroke-width="1.5" stroke-linecap="butt"/>
<line x1="890" y1="56.5" x2="901.4" y2="56.5" stroke="#c4c4c4" stroke-width="1.5" stroke-linecap="butt"/>
<line x1="951.9" y1="56.5" x2="962.3" y2="56.5" stroke="#c4c4c4" stroke-width="1.5" stroke-linecap="butt"/>
<line x1="1047.7" y1="56.5" x2="1058.1" y2="56.5" stroke="#c4c4c4" stroke-width="1.5" stroke-linecap="butt"/>
<line x1="1071.2" y1="56.5" x2="1081.6" y2="56.5" stroke="#c4c4c4" stroke-width="1.5" stroke-linecap="butt"/>
<line x1="1099" y1="56.5" x2="1110.3" y2="56.5" stroke="#c4c4c4" stroke-width="1.5" stroke-linecap="butt"/>
<line x1="1122.5" y1="56.5" x2="1133" y2="56.5" stroke="#c4c4c4" stroke-width="1.5" stroke-linecap="butt"/>
<line x1="1228.8" y1="56.5" x2="1240.1" y2="56.5" stroke="#c4c4c4" stroke-width="1.5" stroke-linecap="butt"/>
<line x1="1255.8" y1="56.5" x2="1268" y2="56.5" stroke="#c4c4c4" stroke-width="1.5" stroke-linecap="butt"/>
<line x1="104" y1="74.5" x2="115.5" y2="74.5" stroke="#c4c4c4" stroke-width="1.5" stroke-linecap="butt"/>
<line x1="127.3" y1="74.5" x2="138.8" y2="74.5" stroke="#c4c4c4" stroke-width="1.5" stroke-linecap="butt"/>
<line x1="150.5" y1="74.5" x2="162" y2="74.5" stroke="#c4c4c4" stroke-width="1.5" stroke-linecap="butt"/>
<line x1="61.6" y1="156" x2="61.6" y2="168" stroke="#c4c4c4" stroke-width="1.5" stroke-linecap="butt"/>
<line x1="61.6" y1="175.6" x2="61.6" y2="187.2" stroke="#c4c4c4" stroke-width="1.5" stroke-linecap="butt"/>
<line x1="61.6" y1="195" x2="61.6" y2="206.7" stroke="#c4c4c4" stroke-width="1.5" stroke-linecap="butt"/>
<line x1="61.6" y1="250" x2="61.6" y2="262" stroke="#c4c4c4" stroke-width="1.5" stroke-linecap="butt"/>
<line x1="61.6" y1="270" x2="61.6" y2="282" stroke="#c4c4c4" stroke-width="1.5" stroke-linecap="butt"/>
<line x1="82.7" y1="77" x2="82.7" y2="140.5" stroke="#111" stroke-width="0.9" stroke-linecap="butt"/>
<line x1="85.3" y1="77" x2="85.3" y2="140.5" stroke="#111" stroke-width="0.9" stroke-linecap="butt"/>
<line x1="84" y1="77" x2="84" y2="140.5" stroke="#bbb" stroke-width="1.8" stroke-linecap="butt"/>
<line x1="82.7" y1="314" x2="82.7" y2="348" stroke="#111" stroke-width="0.9" stroke-linecap="butt"/>
<line x1="85.3" y1="314" x2="85.3" y2="348" stroke="#111" stroke-width="0.9" stroke-linecap="butt"/>
<line x1="84" y1="314" x2="84" y2="348" stroke="#bbb" stroke-width="1.8" stroke-linecap="butt"/>
<line x1="103.9" y1="380.5" x2="115.5" y2="380.5" stroke="#c4c4c4" stroke-width="1.5" stroke-linecap="butt"/>
<line x1="127.2" y1="380.5" x2="138.9" y2="380.5" stroke="#c4c4c4" stroke-width="1.5" stroke-linecap="butt"/>
<line x1="150.5" y1="380.5" x2="162.2" y2="380.5" stroke="#c4c4c4" stroke-width="1.5" stroke-linecap="butt"/>
<line x1="204.8" y1="408.4" x2="215.3" y2="408.4" stroke="#c4c4c4" stroke-width="1.5" stroke-linecap="butt"/>
<line x1="218.8" y1="408.4" x2="229.2" y2="408.4" stroke="#c4c4c4" stroke-width="1.5" stroke-linecap="butt"/>
<line x1="234.4" y1="408.4" x2="244.9" y2="408.4" stroke="#c4c4c4" stroke-width="1.5" stroke-linecap="butt"/>
<line x1="387" y1="398.3" x2="397.5" y2="398.3" stroke="#999" stroke-width="1.5" stroke-linecap="butt"/>
<line x1="411.4" y1="398.3" x2="421.9" y2="398.3" stroke="#999" stroke-width="1.5" stroke-linecap="butt"/>
<line x1="435.8" y1="398.3" x2="446.3" y2="398.3" stroke="#999" stroke-width="1.5" stroke-linecap="butt"/>
<line x1="460" y1="398.3" x2="470.6" y2="398.3" stroke="#999" stroke-width="1.5" stroke-linecap="butt"/>
<line x1="540.3" y1="398.3" x2="550.7" y2="398.3" stroke="#999" stroke-width="1.5" stroke-linecap="butt"/>
<line x1="564.7" y1="398.3" x2="575.1" y2="398.3" stroke="#999" stroke-width="1.5" stroke-linecap="butt"/>
<line x1="589" y1="398.3" x2="599.5" y2="398.3" stroke="#999" stroke-width="1.5" stroke-linecap="butt"/>
<line x1="606" y1="398.3" x2="617" y2="398.3" stroke="#999" stroke-width="1.5" stroke-linecap="butt"/>
<line x1="630" y1="398.3" x2="641" y2="398.3" stroke="#999" stroke-width="1.5" stroke-linecap="butt"/>
<line x1="654" y1="398.3" x2="665" y2="398.3" stroke="#999" stroke-width="1.5" stroke-linecap="butt"/>
<line x1="735" y1="398.3" x2="746" y2="398.3" stroke="#999" stroke-width="1.5" stroke-linecap="butt"/>
<line x1="794" y1="398.3" x2="805" y2="398.3" stroke="#999" stroke-width="1.5" stroke-linecap="butt"/>
<line x1="818" y1="398.3" x2="829" y2="398.3" stroke="#999" stroke-width="1.5" stroke-linecap="butt"/>
<line x1="842" y1="398.3" x2="853" y2="398.3" stroke="#999" stroke-width="1.5" stroke-linecap="butt"/>
<line x1="858" y1="398.3" x2="869" y2="398.3" stroke="#999" stroke-width="1.5" stroke-linecap="butt"/>
<line x1="941" y1="398.3" x2="952" y2="398.3" stroke="#999" stroke-width="1.5" stroke-linecap="butt"/>
<line x1="965" y1="398.3" x2="976" y2="398.3" stroke="#999" stroke-width="1.5" stroke-linecap="butt"/>
<line x1="1000" y1="398.3" x2="1011" y2="398.3" stroke="#999" stroke-width="1.5" stroke-linecap="butt"/>
<line x1="1024" y1="398.3" x2="1035" y2="398.3" stroke="#999" stroke-width="1.5" stroke-linecap="butt"/>
<line x1="1386.6" y1="187.4" x2="1386.6" y2="201.5" stroke="#aaa" stroke-width="1.5" stroke-linecap="butt"/>
<line x1="1386.6" y1="215.6" x2="1386.6" y2="229.6" stroke="#aaa" stroke-width="1.5" stroke-linecap="butt"/>
<line x1="1386.6" y1="316.4" x2="1386.6" y2="330.5" stroke="#aaa" stroke-width="1.5" stroke-linecap="butt"/>
<line x1="1386.6" y1="342.8" x2="1386.6" y2="356.9" stroke="#aaa" stroke-width="1.5" stroke-linecap="butt"/>
<line x1="1386.6" y1="379.7" x2="1386.6" y2="393.8" stroke="#aaa" stroke-width="1.5" stroke-linecap="butt"/>
<line x1="1386.6" y1="406" x2="1386.6" y2="420.2" stroke="#aaa" stroke-width="1.5" stroke-linecap="butt"/>
<line x1="1386.6" y1="500" x2="1386.6" y2="512" stroke="#aaa" stroke-width="1.5" stroke-linecap="butt"/>
<line x1="1386.6" y1="556" x2="1386.6" y2="568" stroke="#aaa" stroke-width="1.5" stroke-linecap="butt"/>
<line x1="1386.6" y1="650" x2="1386.6" y2="665" stroke="#aaa" stroke-width="1.5" stroke-linecap="butt"/>
<line x1="1386.6" y1="670" x2="1386.6" y2="685" stroke="#aaa" stroke-width="1.5" stroke-linecap="butt"/>
<line x1="1386.6" y1="705" x2="1386.6" y2="720" stroke="#aaa" stroke-width="1.5" stroke-linecap="butt"/>
<line x1="1386.6" y1="730" x2="1386.6" y2="745" stroke="#aaa" stroke-width="1.5" stroke-linecap="butt"/>
<line x1="1386.6" y1="812" x2="1386.6" y2="826" stroke="#aaa" stroke-width="1.5" stroke-linecap="butt"/>
<line x1="1386.6" y1="836" x2="1386.6" y2="850" stroke="#aaa" stroke-width="1.5" stroke-linecap="butt"/>
<line x1="1044.6" y1="640" x2="1044.6" y2="652" stroke="#aaa" stroke-width="1.5" stroke-linecap="butt"/>
<line x1="1044.6" y1="666" x2="1044.6" y2="678" stroke="#aaa" stroke-width="1.5" stroke-linecap="butt"/>
<line x1="1044.6" y1="700" x2="1044.6" y2="712" stroke="#aaa" stroke-width="1.5" stroke-linecap="butt"/>
<line x1="1044.6" y1="724" x2="1044.6" y2="736" stroke="#aaa" stroke-width="1.5" stroke-linecap="butt"/>
<line x1="1044.6" y1="748" x2="1044.6" y2="760" stroke="#aaa" stroke-width="1.5" stroke-linecap="butt"/>
<line x1="1034.6" y1="880" x2="1034.6" y2="892" stroke="#aaa" stroke-width="1.5" stroke-linecap="butt"/>
<line x1="1395.4" y1="880" x2="1395.4" y2="892" stroke="#aaa" stroke-width="1.5" stroke-linecap="butt"/>
<line x1="1034.6" y1="905" x2="1034.6" y2="917" stroke="#aaa" stroke-width="1.5" stroke-linecap="butt"/>
<line x1="1395.4" y1="905" x2="1395.4" y2="917" stroke="#aaa" stroke-width="1.5" stroke-linecap="butt"/>
<line x1="1062.6" y1="950" x2="1062.6" y2="962" stroke="#aaa" stroke-width="1.5" stroke-linecap="butt"/>
<line x1="1367.4" y1="950" x2="1367.4" y2="962" stroke="#aaa" stroke-width="1.5" stroke-linecap="butt"/>
<line x1="1062.6" y1="975" x2="1062.6" y2="987" stroke="#aaa" stroke-width="1.5" stroke-linecap="butt"/>
<line x1="1367.4" y1="975" x2="1367.4" y2="987" stroke="#aaa" stroke-width="1.5" stroke-linecap="butt"/>
<line x1="1062.6" y1="1000" x2="1062.6" y2="1012" stroke="#aaa" stroke-width="1.5" stroke-linecap="butt"/>
<line x1="1367.4" y1="1000" x2="1367.4" y2="1012" stroke="#aaa" stroke-width="1.5" stroke-linecap="butt"/>
<line x1="1074.5" y1="1042" x2="1086" y2="1042" stroke="#999" stroke-width="1.5" stroke-linecap="butt"/>
<line x1="1095.4" y1="1040.7" x2="1128.3" y2="1040.7" stroke="#111" stroke-width="0.9" stroke-linecap="butt"/>
<line x1="1095.4" y1="1043.3" x2="1128.3" y2="1043.3" stroke="#111" stroke-width="0.9" stroke-linecap="butt"/>
<line x1="1095.4" y1="1042" x2="1128.3" y2="1042" stroke="#bbb" stroke-width="1.8" stroke-linecap="butt"/>
<line x1="1301.5" y1="1042" x2="1313" y2="1042" stroke="#999" stroke-width="1.5" stroke-linecap="butt"/>
<line x1="1322.5" y1="1040.7" x2="1355" y2="1040.7" stroke="#111" stroke-width="0.9" stroke-linecap="butt"/>
<line x1="1322.5" y1="1043.3" x2="1355" y2="1043.3" stroke="#111" stroke-width="0.9" stroke-linecap="butt"/>
<line x1="1322.5" y1="1042" x2="1355" y2="1042" stroke="#bbb" stroke-width="1.8" stroke-linecap="butt"/>
<line x1="1137.7" y1="1050" x2="1137.7" y2="1056.6" stroke="#111" stroke-width="0.9" stroke-linecap="butt"/>
<line x1="1140.3" y1="1050" x2="1140.3" y2="1056.6" stroke="#111" stroke-width="0.9" stroke-linecap="butt"/>
<line x1="1139" y1="1050" x2="1139" y2="1056.6" stroke="#bbb" stroke-width="1.8" stroke-linecap="butt"/>
<line x1="1290.1" y1="1050" x2="1290.1" y2="1056.6" stroke="#111" stroke-width="0.9" stroke-linecap="butt"/>
<line x1="1292.7" y1="1050" x2="1292.7" y2="1056.6" stroke="#111" stroke-width="0.9" stroke-linecap="butt"/>
<line x1="1291.4" y1="1050" x2="1291.4" y2="1056.6" stroke="#bbb" stroke-width="1.8" stroke-linecap="butt"/>
<line x1="1158" y1="1064.5" x2="1169.6" y2="1064.5" stroke="#aaa" stroke-width="1.5" stroke-linecap="butt"/>
<line x1="1181" y1="1064.5" x2="1192.6" y2="1064.5" stroke="#aaa" stroke-width="1.5" stroke-linecap="butt"/>
<line x1="1237.5" y1="1064.5" x2="1249" y2="1064.5" stroke="#aaa" stroke-width="1.5" stroke-linecap="butt"/>
<line x1="1260.5" y1="1064.5" x2="1272" y2="1064.5" stroke="#aaa" stroke-width="1.5" stroke-linecap="butt"/>
<line x1="587" y1="56.5" x2="601" y2="56.5" stroke="#fff" stroke-width="5.1" stroke-linecap="butt"/>
<line x1="587" y1="55.2" x2="601" y2="55.2" stroke="#111" stroke-width="0.9" stroke-linecap="butt"/>
<line x1="587" y1="57.8" x2="601" y2="57.8" stroke="#111" stroke-width="0.9" stroke-linecap="butt"/>
<line x1="587" y1="56.5" x2="601" y2="56.5" stroke="#bbb" stroke-width="1.8" stroke-linecap="butt"/>
<polyline points="601,57.5 591,68.5 587,60" fill="none" stroke="#333" stroke-width="0.9" stroke-linejoin="miter" stroke-linecap="square"/>
<line x1="919" y1="56.5" x2="933" y2="56.5" stroke="#fff" stroke-width="5.1" stroke-linecap="butt"/>
<line x1="919" y1="55.2" x2="933" y2="55.2" stroke="#111" stroke-width="0.9" stroke-linecap="butt"/>
<line x1="919" y1="57.8" x2="933" y2="57.8" stroke="#111" stroke-width="0.9" stroke-linecap="butt"/>
<line x1="919" y1="56.5" x2="933" y2="56.5" stroke="#bbb" stroke-width="1.8" stroke-linecap="butt"/>
<polyline points="933,57.5 923,68.5 919,60" fill="none" stroke="#333" stroke-width="0.9" stroke-linejoin="miter" stroke-linecap="square"/>
<line x1="323" y1="212.5" x2="346" y2="212.5" stroke="#fff" stroke-width="5.6" stroke-linecap="butt"/>
<path d="M323 209.5 L323 193.5 A16 16 0 0 1 339 209.5" fill="none" stroke="#333" stroke-width="0.9"/>
<rect x="318.5" y="206.5" width="4.5" height="7.7" fill="#000"/>
<polyline points="339.8,208.2 347.5,208.2 347.5,212.5" fill="none" stroke="#000" stroke-width="3.2" stroke-linejoin="miter" stroke-linecap="butt"/>
<line x1="479" y1="212.5" x2="502" y2="212.5" stroke="#fff" stroke-width="5.6" stroke-linecap="butt"/>
<path d="M502 209.5 L502 193.5 A16 16 0 0 0 486 209.5" fill="none" stroke="#333" stroke-width="0.9"/>
<rect x="502" y="206.5" width="4.5" height="7.7" fill="#000"/>
<polyline points="485.2,208.2 477.5,208.2 477.5,212.5" fill="none" stroke="#000" stroke-width="3.2" stroke-linejoin="miter" stroke-linecap="butt"/>
<line x1="688.5" y1="212.5" x2="709" y2="212.5" stroke="#fff" stroke-width="5.6" stroke-linecap="butt"/>
<path d="M688.5 209.5 L688.5 196 A13.5 13.5 0 0 1 702 209.5" fill="none" stroke="#333" stroke-width="0.9"/>
<rect x="684" y="206.5" width="4.5" height="7.7" fill="#000"/>
<polyline points="702.8,208.2 710.5,208.2 710.5,212.5" fill="none" stroke="#000" stroke-width="3.2" stroke-linejoin="miter" stroke-linecap="butt"/>
<line x1="810" y1="212.5" x2="832.6" y2="212.5" stroke="#fff" stroke-width="5.6" stroke-linecap="butt"/>
<path d="M832.6 209.5 L832.6 193.9 A15.6 15.6 0 0 0 817 209.5" fill="none" stroke="#333" stroke-width="0.9"/>
<rect x="832.6" y="206.5" width="4.5" height="7.7" fill="#000"/>
<polyline points="816.2,208.2 808.5,208.2 808.5,212.5" fill="none" stroke="#000" stroke-width="3.2" stroke-linejoin="miter" stroke-linecap="butt"/>
<line x1="1020.3" y1="212.5" x2="1041" y2="212.5" stroke="#fff" stroke-width="5.6" stroke-linecap="butt"/>
<path d="M1020.3 209.5 L1020.3 195.8 A13.7 13.7 0 0 1 1034 209.5" fill="none" stroke="#333" stroke-width="0.9"/>
<rect x="1015.8" y="206.5" width="4.5" height="7.7" fill="#000"/>
<polyline points="1034.8,208.2 1042.5,208.2 1042.5,212.5" fill="none" stroke="#000" stroke-width="3.2" stroke-linejoin="miter" stroke-linecap="butt"/>
<line x1="1139.7" y1="212.5" x2="1161.5" y2="212.5" stroke="#fff" stroke-width="5.6" stroke-linecap="butt"/>
<path d="M1161.5 209.5 L1161.5 194.7 A14.8 14.8 0 0 0 1146.7 209.5" fill="none" stroke="#333" stroke-width="0.9"/>
<rect x="1161.5" y="206.5" width="4.5" height="7.7" fill="#000"/>
<polyline points="1145.9,208.2 1138.2,208.2 1138.2,212.5" fill="none" stroke="#000" stroke-width="3.2" stroke-linejoin="miter" stroke-linecap="butt"/>
<line x1="571.8" y1="212.5" x2="593.4" y2="212.5" stroke="#fff" stroke-width="5.6" stroke-linecap="butt"/>
<polyline points="571.8,207.5 582.5,196.8 586.4,203.6" fill="none" stroke="#333" stroke-width="0.9" stroke-linejoin="miter" stroke-linecap="square"/>
<rect x="567.3" y="206.5" width="4.5" height="7.7" fill="#000"/>
<polyline points="587.2,208.2 594.9,208.2 594.9,212.5" fill="none" stroke="#000" stroke-width="3.2" stroke-linejoin="miter" stroke-linecap="butt"/>
<line x1="903.6" y1="212.5" x2="926.2" y2="212.5" stroke="#fff" stroke-width="5.6" stroke-linecap="butt"/>
<polyline points="903.6,209.4 914.3,196.8 919.2,206.5" fill="none" stroke="#333" stroke-width="0.9" stroke-linejoin="miter" stroke-linecap="square"/>
<rect x="899.1" y="206.5" width="4.5" height="7.7" fill="#000"/>
<polyline points="920,208.2 927.7,208.2 927.7,212.5" fill="none" stroke="#000" stroke-width="3.2" stroke-linejoin="miter" stroke-linecap="butt"/>
<line x1="264.3" y1="242" x2="286" y2="242" stroke="#fff" stroke-width="5.6" stroke-linecap="butt"/>
<path d="M264.3 245 L264.3 259.7 A14.7 14.7 0 0 0 279 245" fill="none" stroke="#333" stroke-width="0.9"/>
<rect x="259.8" y="240.3" width="4.5" height="7.7" fill="#000"/>
<polyline points="279.8,246.3 287.5,246.3 287.5,242" fill="none" stroke="#000" stroke-width="3.2" stroke-linejoin="miter" stroke-linecap="butt"/>
<line x1="360.3" y1="242" x2="382" y2="242" stroke="#fff" stroke-width="5.6" stroke-linecap="butt"/>
<path d="M360.3 245 L360.3 259.7 A14.7 14.7 0 0 0 375 245" fill="none" stroke="#333" stroke-width="0.9"/>
<rect x="355.8" y="240.3" width="4.5" height="7.7" fill="#000"/>
<polyline points="375.8,246.3 383.5,246.3 383.5,242" fill="none" stroke="#000" stroke-width="3.2" stroke-linejoin="miter" stroke-linecap="butt"/>
<line x1="515.6" y1="242" x2="537.2" y2="242" stroke="#fff" stroke-width="5.6" stroke-linecap="butt"/>
<path d="M537.2 245 L537.2 259.6 A14.6 14.6 0 0 1 522.6 245" fill="none" stroke="#333" stroke-width="0.9"/>
<rect x="537.2" y="240.3" width="4.5" height="7.7" fill="#000"/>
<polyline points="521.8,246.3 514.1,246.3 514.1,242" fill="none" stroke="#000" stroke-width="3.2" stroke-linejoin="miter" stroke-linecap="butt"/>
<line x1="650.7" y1="242" x2="671.5" y2="242" stroke="#fff" stroke-width="5.6" stroke-linecap="butt"/>
<path d="M671.5 245 L671.5 258.8 A13.8 13.8 0 0 1 657.7 245" fill="none" stroke="#333" stroke-width="0.9"/>
<rect x="671.5" y="240.3" width="4.5" height="7.7" fill="#000"/>
<polyline points="656.9,246.3 649.2,246.3 649.2,242" fill="none" stroke="#000" stroke-width="3.2" stroke-linejoin="miter" stroke-linecap="butt"/>
<line x1="861" y1="242" x2="883" y2="242" stroke="#fff" stroke-width="5.6" stroke-linecap="butt"/>
<path d="M883 245 L883 260 A15 15 0 0 1 868 245" fill="none" stroke="#333" stroke-width="0.9"/>
<rect x="883" y="240.3" width="4.5" height="7.7" fill="#000"/>
<polyline points="867.2,246.3 859.5,246.3 859.5,242" fill="none" stroke="#000" stroke-width="3.2" stroke-linejoin="miter" stroke-linecap="butt"/>
<line x1="739.7" y1="242" x2="754.6" y2="242" stroke="#fff" stroke-width="5.6" stroke-linecap="butt"/>
<polyline points="739.7,246.7 750.8,258.3 754.6,250" fill="none" stroke="#333" stroke-width="0.9" stroke-linejoin="miter" stroke-linecap="square"/>
<rect x="735.8" y="240.8" width="3.4" height="6.7" fill="#000"/>
<polyline points="189.4,195.8 203,207.5" fill="none" stroke="#333" stroke-width="0.9" stroke-linejoin="miter" stroke-linecap="square"/>
<path d="M189.4 195.8 Q186 200 188.5 207" fill="none" stroke="#333" stroke-width="0.9"/>
<polyline points="189.4,258 203,246.4" fill="none" stroke="#333" stroke-width="0.9" stroke-linejoin="miter" stroke-linecap="square"/>
<path d="M189.4 258 Q186 254 188.5 247.4" fill="none" stroke="#333" stroke-width="0.9"/>
<polyline points="773,396.7 777.2,387 787,395.3" fill="none" stroke="#333" stroke-width="0.9" stroke-linejoin="miter" stroke-linecap="square"/>
<path d="M973.5 398 L973.5 413 A15 15 0 0 0 988.4 398" fill="none" stroke="#333" stroke-width="0.9"/>
<path d="M1062 333 L1046 333 A16 16 0 0 0 1062 348" fill="none" stroke="#333" stroke-width="0.9"/>
<path d="M1148.6 250.4 L1163 250.4 A14.4 14.4 0 0 1 1148.6 265" fill="none" stroke="#333" stroke-width="0.9"/>
<path d="M1200 335 L1185 335 A15 15 0 0 1 1200 321" fill="none" stroke="#333" stroke-width="0.9"/>
<polyline points="1234.4,220.5 1245.3,226 1233.5,237.8" fill="none" stroke="#333" stroke-width="0.9" stroke-linejoin="miter" stroke-linecap="square"/>
<rect x="1229" y="238" width="6" height="10" fill="#000"/>
<path d="M1105.5 438.7 L1105.5 453 A14.3 14.3 0 0 0 1121 438.7" fill="none" stroke="#333" stroke-width="0.9"/>
<path d="M1136.8 438.7 L1136.8 453 A14.3 14.3 0 0 1 1121 438.7" fill="none" stroke="#333" stroke-width="0.9"/>
<path d="M1044 458.5 L1030 458.5 A14 14 0 0 0 1044 474" fill="none" stroke="#333" stroke-width="0.9"/>
<path d="M1044 490 L1030 490 A14 14 0 0 1 1044 474" fill="none" stroke="#333" stroke-width="0.9"/>
<path d="M1162.5 453 L1147 453 A15.5 15.5 0 0 0 1162.5 468" fill="none" stroke="#333" stroke-width="0.9"/>
<line x1="1230" y1="296" x2="1230" y2="318.5" stroke="#fff" stroke-width="5.6" stroke-linecap="butt"/>
<path d="M1231.5 296 L1247.5 296 A16 16 0 0 1 1231.5 311.5" fill="none" stroke="#333" stroke-width="0.9"/>
<rect x="1228.3" y="291.5" width="7.7" height="4.5" fill="#000"/>
<polyline points="1234.3,312.3 1234.3,320 1230,320" fill="none" stroke="#000" stroke-width="3.2" stroke-linejoin="miter" stroke-linecap="butt"/>
<line x1="1230" y1="423" x2="1230" y2="445.5" stroke="#fff" stroke-width="5.6" stroke-linecap="butt"/>
<path d="M1231.5 423 L1247.5 423 A16 16 0 0 1 1231.5 438.5" fill="none" stroke="#333" stroke-width="0.9"/>
<rect x="1228.3" y="418.5" width="7.7" height="4.5" fill="#000"/>
<polyline points="1234.3,439.3 1234.3,447 1230,447" fill="none" stroke="#000" stroke-width="3.2" stroke-linejoin="miter" stroke-linecap="butt"/>
<line x1="1230" y1="625" x2="1230" y2="647" stroke="#fff" stroke-width="5.6" stroke-linecap="butt"/>
<path d="M1231.5 625 L1247 625 A15.5 15.5 0 0 1 1231.5 640" fill="none" stroke="#333" stroke-width="0.9"/>
<rect x="1228.3" y="620.5" width="7.7" height="4.5" fill="#000"/>
<polyline points="1234.3,640.8 1234.3,648.5 1230,648.5" fill="none" stroke="#000" stroke-width="3.2" stroke-linejoin="miter" stroke-linecap="butt"/>
<line x1="1230" y1="787" x2="1230" y2="802" stroke="#fff" stroke-width="5.6" stroke-linecap="butt"/>
<line x1="1230" y1="780" x2="1230" y2="787" stroke="#fff" stroke-width="5.6" stroke-linecap="butt"/>
<path d="M1231.5 802 L1247 802 A15.5 15.5 0 0 0 1231.5 787" fill="none" stroke="#333" stroke-width="0.9"/>
<rect x="1228.3" y="802" width="7.7" height="4.5" fill="#000"/>
<polyline points="1234.3,786.2 1234.3,778.5 1230,778.5" fill="none" stroke="#000" stroke-width="3.2" stroke-linejoin="miter" stroke-linecap="butt"/>
<line x1="1200" y1="625" x2="1200" y2="647" stroke="#fff" stroke-width="5.6" stroke-linecap="butt"/>
<path d="M1198.5 625 L1183 625 A15.5 15.5 0 0 0 1198.5 640" fill="none" stroke="#333" stroke-width="0.9"/>
<rect x="1194" y="620.5" width="7.7" height="4.5" fill="#000"/>
<polyline points="1195.7,640.8 1195.7,648.5 1200,648.5" fill="none" stroke="#000" stroke-width="3.2" stroke-linejoin="miter" stroke-linecap="butt"/>
<line x1="1200" y1="751" x2="1200" y2="766" stroke="#fff" stroke-width="5.6" stroke-linecap="butt"/>
<line x1="1200" y1="744" x2="1200" y2="751" stroke="#fff" stroke-width="5.6" stroke-linecap="butt"/>
<path d="M1198.5 766 L1183 766 A15.5 15.5 0 0 1 1198.5 751" fill="none" stroke="#333" stroke-width="0.9"/>
<rect x="1194" y="766" width="7.7" height="4.5" fill="#000"/>
<polyline points="1195.7,750.2 1195.7,742.5 1200,742.5" fill="none" stroke="#000" stroke-width="3.2" stroke-linejoin="miter" stroke-linecap="butt"/>
<line x1="1200" y1="517" x2="1200" y2="538" stroke="#fff" stroke-width="5.6" stroke-linecap="butt"/>
<path d="M1198.5 517 L1184 517 A14.5 14.5 0 0 0 1198.5 531" fill="none" stroke="#333" stroke-width="0.9"/>
<rect x="1194" y="512.5" width="7.7" height="4.5" fill="#000"/>
<polyline points="1195.7,531.8 1195.7,539.5 1200,539.5" fill="none" stroke="#000" stroke-width="3.2" stroke-linejoin="miter" stroke-linecap="butt"/>
<line x1="1200" y1="847.7" x2="1200" y2="862.5" stroke="#fff" stroke-width="5.6" stroke-linecap="butt"/>
<line x1="1200" y1="840.7" x2="1200" y2="847.7" stroke="#fff" stroke-width="5.6" stroke-linecap="butt"/>
<path d="M1198.5 862.5 L1183.2 862.5 A15.3 15.3 0 0 1 1198.5 847.7" fill="none" stroke="#333" stroke-width="0.9"/>
<rect x="1194" y="862.5" width="7.7" height="4.5" fill="#000"/>
<polyline points="1195.7,846.9 1195.7,839.2 1200,839.2" fill="none" stroke="#000" stroke-width="3.2" stroke-linejoin="miter" stroke-linecap="butt"/>
<polyline points="1235.5,508.5 1245,518 1235.5,524" fill="none" stroke="#333" stroke-width="0.9" stroke-linejoin="miter" stroke-linecap="square"/>
<rect x="1228.3" y="504" width="7.2" height="4.5" fill="#000"/>
<polyline points="1234.3,524.8 1234.3,532.5 1230,532.5" fill="none" stroke="#000" stroke-width="3.2" stroke-linejoin="miter" stroke-linecap="butt"/>
<polyline points="1194,923.2 1183.8,933.6 1194,937.4" fill="none" stroke="#333" stroke-width="0.9" stroke-linejoin="miter" stroke-linecap="square"/>
<polyline points="1234.3,923.2 1244.7,933.6 1234.3,937.4" fill="none" stroke="#333" stroke-width="0.9" stroke-linejoin="miter" stroke-linecap="square"/>
<text transform="translate(120.2 133.6) scale(0.840 1)" x="0" y="0" font-size="16.4" textLength="90.5" lengthAdjust="spacing" fill="#000" font-weight="bold">UNIT C101</text>
<line x1="119" y1="136.8" x2="197" y2="136.8" stroke="#111" stroke-width="1.6" stroke-linecap="butt"/>
<text transform="translate(128.4 150.9) scale(0.860 1)" x="0" y="0" font-size="15.1" textLength="69.2" lengthAdjust="spacing" fill="#333">PLAN D3</text>
<text transform="translate(311.7 133.6) scale(0.840 1)" x="0" y="0" font-size="16.4" textLength="90.5" lengthAdjust="spacing" fill="#000" font-weight="bold">UNIT C103</text>
<line x1="310.5" y1="136.8" x2="388.5" y2="136.8" stroke="#111" stroke-width="1.6" stroke-linecap="butt"/>
<text transform="translate(321.7 150.9) scale(0.860 1)" x="0" y="0" font-size="15.1" textLength="65.1" lengthAdjust="spacing" fill="#333">PLAN D1</text>
<text transform="translate(448 133.6) scale(0.840 1)" x="0" y="0" font-size="16.4" textLength="90.5" lengthAdjust="spacing" fill="#000" font-weight="bold">UNIT C105</text>
<line x1="446.8" y1="136.8" x2="524.8" y2="136.8" stroke="#111" stroke-width="1.6" stroke-linecap="butt"/>
<text transform="translate(457.8 150.9) scale(0.860 1)" x="0" y="0" font-size="15.1" textLength="65.6" lengthAdjust="spacing" fill="#333">PLAN B2</text>
<text transform="translate(555.9 133.6) scale(0.840 1)" x="0" y="0" font-size="16.4" textLength="90.5" lengthAdjust="spacing" fill="#000" font-weight="bold">UNIT C107</text>
<line x1="554.7" y1="136.8" x2="632.7" y2="136.8" stroke="#111" stroke-width="1.6" stroke-linecap="butt"/>
<text transform="translate(564.4 150.9) scale(0.860 1)" x="0" y="0" font-size="15.1" textLength="68.6" lengthAdjust="spacing" fill="#333">PLAN A3</text>
<text transform="translate(658.5 133.6) scale(0.840 1)" x="0" y="0" font-size="16.4" textLength="90.5" lengthAdjust="spacing" fill="#000" font-weight="bold">UNIT C109</text>
<line x1="657.3" y1="136.8" x2="735.3" y2="136.8" stroke="#111" stroke-width="1.6" stroke-linecap="butt"/>
<text transform="translate(661.8 150.9) scale(0.860 1)" x="0" y="0" font-size="15.1" textLength="80.7" lengthAdjust="spacing" fill="#333">PLAN B2M</text>
<text transform="translate(779.3 133.6) scale(0.840 1)" x="0" y="0" font-size="16.4" textLength="90.5" lengthAdjust="spacing" fill="#000" font-weight="bold">UNIT C111</text>
<line x1="778.1" y1="136.8" x2="856.1" y2="136.8" stroke="#111" stroke-width="1.6" stroke-linecap="butt"/>
<text transform="translate(783.9 150.9) scale(0.860 1)" x="0" y="0" font-size="15.1" textLength="77.6" lengthAdjust="spacing" fill="#333">PLAN B2.1</text>
<text transform="translate(887.8 133.6) scale(0.840 1)" x="0" y="0" font-size="16.4" textLength="90.5" lengthAdjust="spacing" fill="#000" font-weight="bold">UNIT C113</text>
<line x1="886.6" y1="136.8" x2="964.6" y2="136.8" stroke="#111" stroke-width="1.6" stroke-linecap="butt"/>
<text transform="translate(896.3 150.9) scale(0.860 1)" x="0" y="0" font-size="15.1" textLength="68.6" lengthAdjust="spacing" fill="#333">PLAN A3</text>
<text transform="translate(991 133.6) scale(0.840 1)" x="0" y="0" font-size="16.4" textLength="90.5" lengthAdjust="spacing" fill="#000" font-weight="bold">UNIT C115</text>
<line x1="989.8" y1="136.8" x2="1067.8" y2="136.8" stroke="#111" stroke-width="1.6" stroke-linecap="butt"/>
<text transform="translate(994.3 150.9) scale(0.860 1)" x="0" y="0" font-size="15.1" textLength="80.7" lengthAdjust="spacing" fill="#333">PLAN B2M</text>
<text transform="translate(1111.4 133.6) scale(0.840 1)" x="0" y="0" font-size="16.4" textLength="90.5" lengthAdjust="spacing" fill="#000" font-weight="bold">UNIT C117</text>
<line x1="1110.2" y1="136.8" x2="1188.2" y2="136.8" stroke="#111" stroke-width="1.6" stroke-linecap="butt"/>
<text transform="translate(1121.2 150.9) scale(0.860 1)" x="0" y="0" font-size="15.1" textLength="65.6" lengthAdjust="spacing" fill="#333">PLAN B2</text>
<text transform="translate(1270 133.6) scale(0.840 1)" x="0" y="0" font-size="16.4" textLength="90.5" lengthAdjust="spacing" fill="#000" font-weight="bold">UNIT C119</text>
<line x1="1268.8" y1="136.8" x2="1346.8" y2="136.8" stroke="#111" stroke-width="1.6" stroke-linecap="butt"/>
<text transform="translate(1278.7 150.9) scale(0.860 1)" x="0" y="0" font-size="15.1" textLength="68.3" lengthAdjust="spacing" fill="#333">PLAN D4</text>
<text transform="translate(121.6 284.5) scale(0.840 1)" x="0" y="0" font-size="16.4" textLength="89.9" lengthAdjust="spacing" fill="#000" font-weight="bold">UNIT C102</text>
<line x1="120.4" y1="287.7" x2="197.9" y2="287.7" stroke="#111" stroke-width="1.6" stroke-linecap="butt"/>
<text transform="translate(123.8 301.8) scale(0.860 1)" x="0" y="0" font-size="15.1" textLength="82.8" lengthAdjust="spacing" fill="#333">PLAN D3M</text>
<text transform="translate(326.5 284.5) scale(0.840 1)" x="0" y="0" font-size="16.4" textLength="90.5" lengthAdjust="spacing" fill="#000" font-weight="bold">UNIT C104</text>
<line x1="325.3" y1="287.7" x2="403.3" y2="287.7" stroke="#111" stroke-width="1.6" stroke-linecap="butt"/>
<text transform="translate(336.3 301.8) scale(0.860 1)" x="0" y="0" font-size="15.1" textLength="65.6" lengthAdjust="spacing" fill="#333">PLAN B2</text>
<text transform="translate(479.8 284.5) scale(0.840 1)" x="0" y="0" font-size="16.4" textLength="90.5" lengthAdjust="spacing" fill="#000" font-weight="bold">UNIT C106</text>
<line x1="478.6" y1="287.7" x2="556.6" y2="287.7" stroke="#111" stroke-width="1.6" stroke-linecap="butt"/>
<text transform="translate(489.8 301.8) scale(0.860 1)" x="0" y="0" font-size="15.1" textLength="65.1" lengthAdjust="spacing" fill="#333">PLAN D1</text>
<text transform="translate(623.6 284.5) scale(0.840 1)" x="0" y="0" font-size="16.4" textLength="90.5" lengthAdjust="spacing" fill="#000" font-weight="bold">UNIT C108</text>
<line x1="622.4" y1="287.7" x2="700.4" y2="287.7" stroke="#111" stroke-width="1.6" stroke-linecap="butt"/>
<text transform="translate(626.9 301.8) scale(0.860 1)" x="0" y="0" font-size="15.1" textLength="80.7" lengthAdjust="spacing" fill="#333">PLAN B2M</text>
<text transform="translate(728.3 284.5) scale(0.840 1)" x="0" y="0" font-size="16.4" textLength="90.5" lengthAdjust="spacing" fill="#000" font-weight="bold">UNIT C110</text>
<line x1="727.1" y1="287.7" x2="805.1" y2="287.7" stroke="#111" stroke-width="1.6" stroke-linecap="butt"/>
<text transform="translate(731.7 301.8) scale(0.860 1)" x="0" y="0" font-size="15.1" textLength="80.5" lengthAdjust="spacing" fill="#333">PLAN A3.1</text>
<text transform="translate(833 284.5) scale(0.840 1)" x="0" y="0" font-size="16.4" textLength="90.5" lengthAdjust="spacing" fill="#000" font-weight="bold">UNIT C112</text>
<line x1="831.8" y1="287.7" x2="909.8" y2="287.7" stroke="#111" stroke-width="1.6" stroke-linecap="butt"/>
<text transform="translate(836.3 301.8) scale(0.860 1)" x="0" y="0" font-size="15.1" textLength="80.7" lengthAdjust="spacing" fill="#333">PLAN B2M</text>
<text transform="translate(950.7 283.7) scale(0.840 1)" x="0" y="0" font-size="16.4" textLength="104.5" lengthAdjust="spacing" fill="#000" font-weight="bold">CLUBROOM</text>
<text transform="translate(1270.5 301.8) scale(0.840 1)" x="0" y="0" font-size="16.4" textLength="88.1" lengthAdjust="spacing" fill="#000" font-weight="bold">UNIT C121</text>
<line x1="1269.3" y1="305" x2="1345.3" y2="305" stroke="#111" stroke-width="1.6" stroke-linecap="butt"/>
<text transform="translate(1272.7 319.1) scale(0.860 1)" x="0" y="0" font-size="15.1" textLength="81" lengthAdjust="spacing" fill="#333">PLAN B2M</text>
<text transform="translate(1269.5 416.8) scale(0.840 1)" x="0" y="0" font-size="16.4" textLength="90.5" lengthAdjust="spacing" fill="#000" font-weight="bold">UNIT C123</text>
<line x1="1268.3" y1="420" x2="1346.3" y2="420" stroke="#111" stroke-width="1.6" stroke-linecap="butt"/>
<text transform="translate(1279.3 434.1) scale(0.860 1)" x="0" y="0" font-size="15.1" textLength="65.6" lengthAdjust="spacing" fill="#333">PLAN B2</text>
<text transform="translate(1269.5 530) scale(0.840 1)" x="0" y="0" font-size="16.4" textLength="90.5" lengthAdjust="spacing" fill="#000" font-weight="bold">UNIT C125</text>
<line x1="1268.3" y1="533.2" x2="1346.3" y2="533.2" stroke="#111" stroke-width="1.6" stroke-linecap="butt"/>
<text transform="translate(1278 547.3) scale(0.860 1)" x="0" y="0" font-size="15.1" textLength="68.6" lengthAdjust="spacing" fill="#333">PLAN A3</text>
<text transform="translate(1270 633.4) scale(0.840 1)" x="0" y="0" font-size="16.4" textLength="90.5" lengthAdjust="spacing" fill="#000" font-weight="bold">UNIT C127</text>
<line x1="1268.8" y1="636.6" x2="1346.8" y2="636.6" stroke="#111" stroke-width="1.6" stroke-linecap="butt"/>
<text transform="translate(1273.3 650.7) scale(0.860 1)" x="0" y="0" font-size="15.1" textLength="80.7" lengthAdjust="spacing" fill="#333">PLAN B2M</text>
<text transform="translate(1270 770) scale(0.840 1)" x="0" y="0" font-size="16.4" textLength="90.5" lengthAdjust="spacing" fill="#000" font-weight="bold">UNIT C129</text>
<line x1="1268.8" y1="773.2" x2="1346.8" y2="773.2" stroke="#111" stroke-width="1.6" stroke-linecap="butt"/>
<text transform="translate(1272.3 787.3) scale(0.860 1)" x="0" y="0" font-size="15.1" textLength="83" lengthAdjust="spacing" fill="#333">PLAN D1M</text>
<text transform="translate(1269.4 974.7) scale(0.840 1)" x="0" y="0" font-size="16.4" textLength="90.5" lengthAdjust="spacing" fill="#000" font-weight="bold">UNIT C131</text>
<line x1="1268.2" y1="977.9" x2="1346.2" y2="977.9" stroke="#111" stroke-width="1.6" stroke-linecap="butt"/>
<text transform="translate(1271.4 992) scale(0.860 1)" x="0" y="0" font-size="15.1" textLength="83.7" lengthAdjust="spacing" fill="#333">PLAN D3M</text>
<text transform="translate(1082.8 633.4) scale(0.840 1)" x="0" y="0" font-size="16.4" textLength="90.5" lengthAdjust="spacing" fill="#000" font-weight="bold">UNIT C126</text>
<line x1="1081.5" y1="636.6" x2="1159.5" y2="636.6" stroke="#111" stroke-width="1.6" stroke-linecap="butt"/>
<text transform="translate(1092.5 650.7) scale(0.860 1)" x="0" y="0" font-size="15.1" textLength="65.6" lengthAdjust="spacing" fill="#333">PLAN B2</text>
<text transform="translate(1082.8 730.2) scale(0.840 1)" x="0" y="0" font-size="16.4" textLength="90.5" lengthAdjust="spacing" fill="#000" font-weight="bold">UNIT C128</text>
<line x1="1081.5" y1="733.4" x2="1159.5" y2="733.4" stroke="#111" stroke-width="1.6" stroke-linecap="butt"/>
<text transform="translate(1086 747.5) scale(0.860 1)" x="0" y="0" font-size="15.1" textLength="80.7" lengthAdjust="spacing" fill="#333">PLAN B2M</text>
<text transform="translate(1084.8 974.7) scale(0.840 1)" x="0" y="0" font-size="16.4" textLength="90.5" lengthAdjust="spacing" fill="#000" font-weight="bold">UNIT C130</text>
<line x1="1083.6" y1="977.9" x2="1161.6" y2="977.9" stroke="#111" stroke-width="1.6" stroke-linecap="butt"/>
<text transform="translate(1093.1 992) scale(0.860 1)" x="0" y="0" font-size="15.1" textLength="69.2" lengthAdjust="spacing" fill="#333">PLAN D3</text>
<text transform="translate(1097 378) scale(0.819 1)" x="0" y="0" font-size="16.4" textLength="57.4" lengthAdjust="spacing" fill="#000" font-weight="bold">LOBBY</text>
<text transform="translate(1098.2 477.2) scale(0.811 1)" x="0" y="0" font-size="16.4" textLength="55" lengthAdjust="spacing" fill="#000" font-weight="bold">ENTRY</text>
<text transform="translate(1093.4 536.2) scale(0.783 1)" x="0" y="0" font-size="16.4" textLength="69.3" lengthAdjust="spacing" fill="#000" font-weight="bold">FITNESS</text>
<text transform="translate(333.6 56) scale(0.860 1)" x="0" y="0" font-size="11.5" textLength="37.3" lengthAdjust="spacing" fill="#222">PATIO</text>
<text transform="translate(512.5 56) scale(0.860 1)" x="0" y="0" font-size="11.5" textLength="37.3" lengthAdjust="spacing" fill="#222">PATIO</text>
<text transform="translate(577.6 38.7) scale(0.860 1)" x="0" y="0" font-size="11.5" textLength="37.3" lengthAdjust="spacing" fill="#222">PATIO</text>
<text transform="translate(644.7 55.4) scale(0.860 1)" x="0" y="0" font-size="11.5" textLength="36.2" lengthAdjust="spacing" fill="#222">PATIO</text>
<text transform="translate(844.9 55.4) scale(0.860 1)" x="0" y="0" font-size="11.5" textLength="36.6" lengthAdjust="spacing" fill="#222">PATIO</text>
<text transform="translate(909.4 38.7) scale(0.860 1)" x="0" y="0" font-size="11.5" textLength="37.3" lengthAdjust="spacing" fill="#222">PATIO</text>
<text transform="translate(977 55.4) scale(0.860 1)" x="0" y="0" font-size="11.5" textLength="37.9" lengthAdjust="spacing" fill="#222">PATIO</text>
<text transform="translate(1173.3 55.4) scale(0.860 1)" x="0" y="0" font-size="11.5" textLength="38" lengthAdjust="spacing" fill="#222">PATIO</text>
<text transform="translate(1331.7 66) scale(0.860 1)" x="0" y="0" font-size="11.5" textLength="37.9" lengthAdjust="spacing" fill="#222">PATIO</text>
<text transform="translate(315.4 407.5) scale(0.860 1)" x="0" y="0" font-size="11.5" textLength="37.4" lengthAdjust="spacing" fill="#222">PATIO</text>
<text transform="translate(496.4 407) scale(0.860 1)" x="0" y="0" font-size="11.5" textLength="36.2" lengthAdjust="spacing" fill="#222">PATIO</text>
<text transform="translate(683.3 407.6) scale(0.860 1)" x="0" y="0" font-size="11.5" textLength="37.1" lengthAdjust="spacing" fill="#222">PATIO</text>
<text transform="translate(752.9 425.3) scale(0.860 1)" x="0" y="0" font-size="11.5" textLength="36.6" lengthAdjust="spacing" fill="#222">PATIO</text>
<text transform="translate(893.7 407.6) scale(0.860 1)" x="0" y="0" font-size="11.5" textLength="37.1" lengthAdjust="spacing" fill="#222">PATIO</text>
<g transform="translate(1389.5 268.7) rotate(-90)">
<text transform="translate(-16 4.1) scale(0.860 1)" x="0" y="0" font-size="11.5" textLength="37.2" lengthAdjust="spacing" fill="#222">PATIO</text>
</g>
<g transform="translate(1389.5 465.5) rotate(-90)">
<text transform="translate(-15.5 4.1) scale(0.860 1)" x="0" y="0" font-size="11.5" textLength="36" lengthAdjust="spacing" fill="#222">PATIO</text>
</g>
<g transform="translate(1404 531.7) rotate(-90)">
<text transform="translate(-16.5 4.1) scale(0.860 1)" x="0" y="0" font-size="11.5" textLength="38.4" lengthAdjust="spacing" fill="#222">PATIO</text>
</g>
<g transform="translate(1388.5 596.6) rotate(-90)">
<text transform="translate(-16.5 4.1) scale(0.860 1)" x="0" y="0" font-size="11.5" textLength="38.4" lengthAdjust="spacing" fill="#222">PATIO</text>
</g>
<g transform="translate(1038.5 598.5) rotate(-90)">
<text transform="translate(-16.5 4.1) scale(0.860 1)" x="0" y="0" font-size="11.5" textLength="38.4" lengthAdjust="spacing" fill="#222">PATIO</text>
</g>
<g transform="translate(1038.5 793.7) rotate(-90)">
<text transform="translate(-17.5 4.1) scale(0.860 1)" x="0" y="0" font-size="11.5" textLength="40.7" lengthAdjust="spacing" fill="#222">PATIO</text>
</g>
<g transform="translate(297.4 323.2) rotate(-90)">
<text transform="translate(-23.3 4.6) scale(0.860 1)" x="0" y="0" font-size="11.5" textLength="54.2" lengthAdjust="spacing" fill="#222">STAIR #5</text>
</g>
<text transform="translate(1082.7 831) scale(0.860 1)" x="0" y="0" font-size="11.5" textLength="54.3" lengthAdjust="spacing" fill="#222">STAIR #6</text>
<text transform="translate(41 971.8) scale(0.830 1)" x="0" y="0" font-size="27.3" textLength="263.9" lengthAdjust="spacing" fill="#000" font-weight="bold">FIRST FLOOR PLAN</text>
<polyline points="43.8,1024.1 43.8,998.3 83.5,998.3 83.5,1024.1 122.6,1024.1 122.6,998.3 202,998.3 202,1024.1 358.6,1024.1 358.6,998.3" fill="none" stroke="#000" stroke-width="2.6" stroke-linejoin="miter" stroke-linecap="butt"/>
<line x1="35.4" y1="1010.9" x2="366.3" y2="1010.9" stroke="#444" stroke-width="0.8" stroke-linecap="butt"/>
<text transform="translate(38.7 1043.5) scale(1.000 1)" x="0" y="0" font-size="12.5" textLength="10" lengthAdjust="spacing" fill="#111">0'</text>
<text transform="translate(79.5 1043.5) scale(0.953 1)" x="0" y="0" font-size="12.5" textLength="9.3" lengthAdjust="spacing" fill="#111">8'</text>
<text transform="translate(116 1043.5) scale(1.000 1)" x="0" y="0" font-size="12.5" textLength="17.6" lengthAdjust="spacing" fill="#111">16'</text>
<text transform="translate(193 1043.5) scale(1.000 1)" x="0" y="0" font-size="12.5" textLength="16.7" lengthAdjust="spacing" fill="#111">32'</text>
<text transform="translate(350.8 1043.5) scale(1.000 1)" x="0" y="0" font-size="12.5" textLength="16.6" lengthAdjust="spacing" fill="#111">64'</text>
<circle cx="348.6" cy="956.4" r="15" fill="none" stroke="#222" stroke-width="1.1"/>
<line x1="348.6" y1="941.4" x2="348.6" y2="971.4" stroke="#222" stroke-width="1.1" stroke-linecap="butt"/>
<line x1="333.6" y1="956.4" x2="363.6" y2="956.4" stroke="#222" stroke-width="1.1" stroke-linecap="butt"/>
<line x1="348.6" y1="956.4" x2="364.5" y2="956.4" stroke="#000" stroke-width="3" stroke-linecap="butt"/>
<path d="M1443.3 903.3 Q1460 899.5 1492.8 899.7 M1462.8 901.7 L1438.6 945.6 M1471.1 908.3 C1466 913 1460 920 1459.5 923.5 C1459 926 1463 925.5 1465.5 921.5 C1467 920 1469 922 1469.5 925.5 C1472 924 1476 922.5 1480 922.5 C1485 921 1484.5 918.5 1481 919.2 C1477 920 1476.5 925.5 1481 926 L1486 925" fill="none" stroke="#888" stroke-width="1.4"/>
<line x1="1484.8" y1="925" x2="1675.6" y2="925" stroke="#8c8c8c" stroke-width="1.8" stroke-linecap="butt"/>
<line x1="1468.5" y1="1006" x2="1675.6" y2="1006" stroke="#8c8c8c" stroke-width="1.8" stroke-linecap="butt"/>
<rect x="1469" y="934.6" width="8.4" height="62.1" fill="#8a8a8a"/>
<rect x="1469" y="934.6" width="16.7" height="7.5" fill="#8a8a8a"/>
<rect x="1496" y="934.6" width="8" height="62.1" fill="#8a8a8a"/>
<rect x="1512.6" y="934.6" width="8.4" height="62.1" fill="#8a8a8a"/>
<rect x="1512.6" y="934.6" width="14.8" height="7.5" fill="#8a8a8a"/>
<rect x="1533" y="934.6" width="20.3" height="7.5" fill="#8a8a8a"/>
<rect x="1539.2" y="934.6" width="8.2" height="62.1" fill="#8a8a8a"/>
<path d="M1558 934.6 L1566 934.6 L1571 953 L1576 934.6 L1584 934.6 L1575 960 L1575 996.7 L1567 996.7 L1567 960 Z" fill="#8a8a8a" stroke="#8a8a8a" stroke-width="0"/>
<rect x="1599" y="938.6" width="18" height="54.1" rx="9" ry="9" fill="none" stroke="#8a8a8a" stroke-width="8"/>
<path d="M1625.6 934.6 L1633 934.6 L1641 975 L1641 934.6 L1648 934.6 L1648 996.7 L1641 996.7 L1633 957 L1633 996.7 L1625.6 996.7 Z" fill="#8a8a8a" stroke="#8a8a8a" stroke-width="0"/>
<rect x="1655" y="934.6" width="8" height="62.1" fill="#8a8a8a"/>
<rect x="1655" y="934.6" width="17" height="7.5" fill="#8a8a8a"/>
<rect x="1655" y="989.2" width="17" height="7.5" fill="#8a8a8a"/>
<rect x="1469" y="961.5" width="21.4" height="8.3" fill="#f2b52b"/>
<rect x="1510.7" y="961.5" width="21.3" height="8.3" fill="#f2b52b"/>
<rect x="1559" y="961.5" width="24" height="8.3" fill="#f2b52b"/>
<rect x="1610.7" y="961.5" width="22.3" height="8.3" fill="#f2b52b"/>
<rect x="1654" y="961.5" width="21.6" height="8.3" fill="#f2b52b"/>
<text transform="translate(1467.2 1027.2) scale(0.939 1)" x="0" y="0" font-size="14.2" textLength="165.7" lengthAdjust="spacing" fill="#222">1680 NYGAARD STREET</text>
<text transform="translate(1466.3 1044.8) scale(1.000 1)" x="0" y="0" font-size="14.5" textLength="213.9" lengthAdjust="spacing" fill="#222">www.lakestoneproperties.com</text>
<text transform="translate(1466.4 1061.5) scale(1.000 1)" x="0" y="0" font-size="14.2" textLength="99.1" lengthAdjust="spacing" fill="#222">(608) 838-1800</text>
</svg></body></html>
